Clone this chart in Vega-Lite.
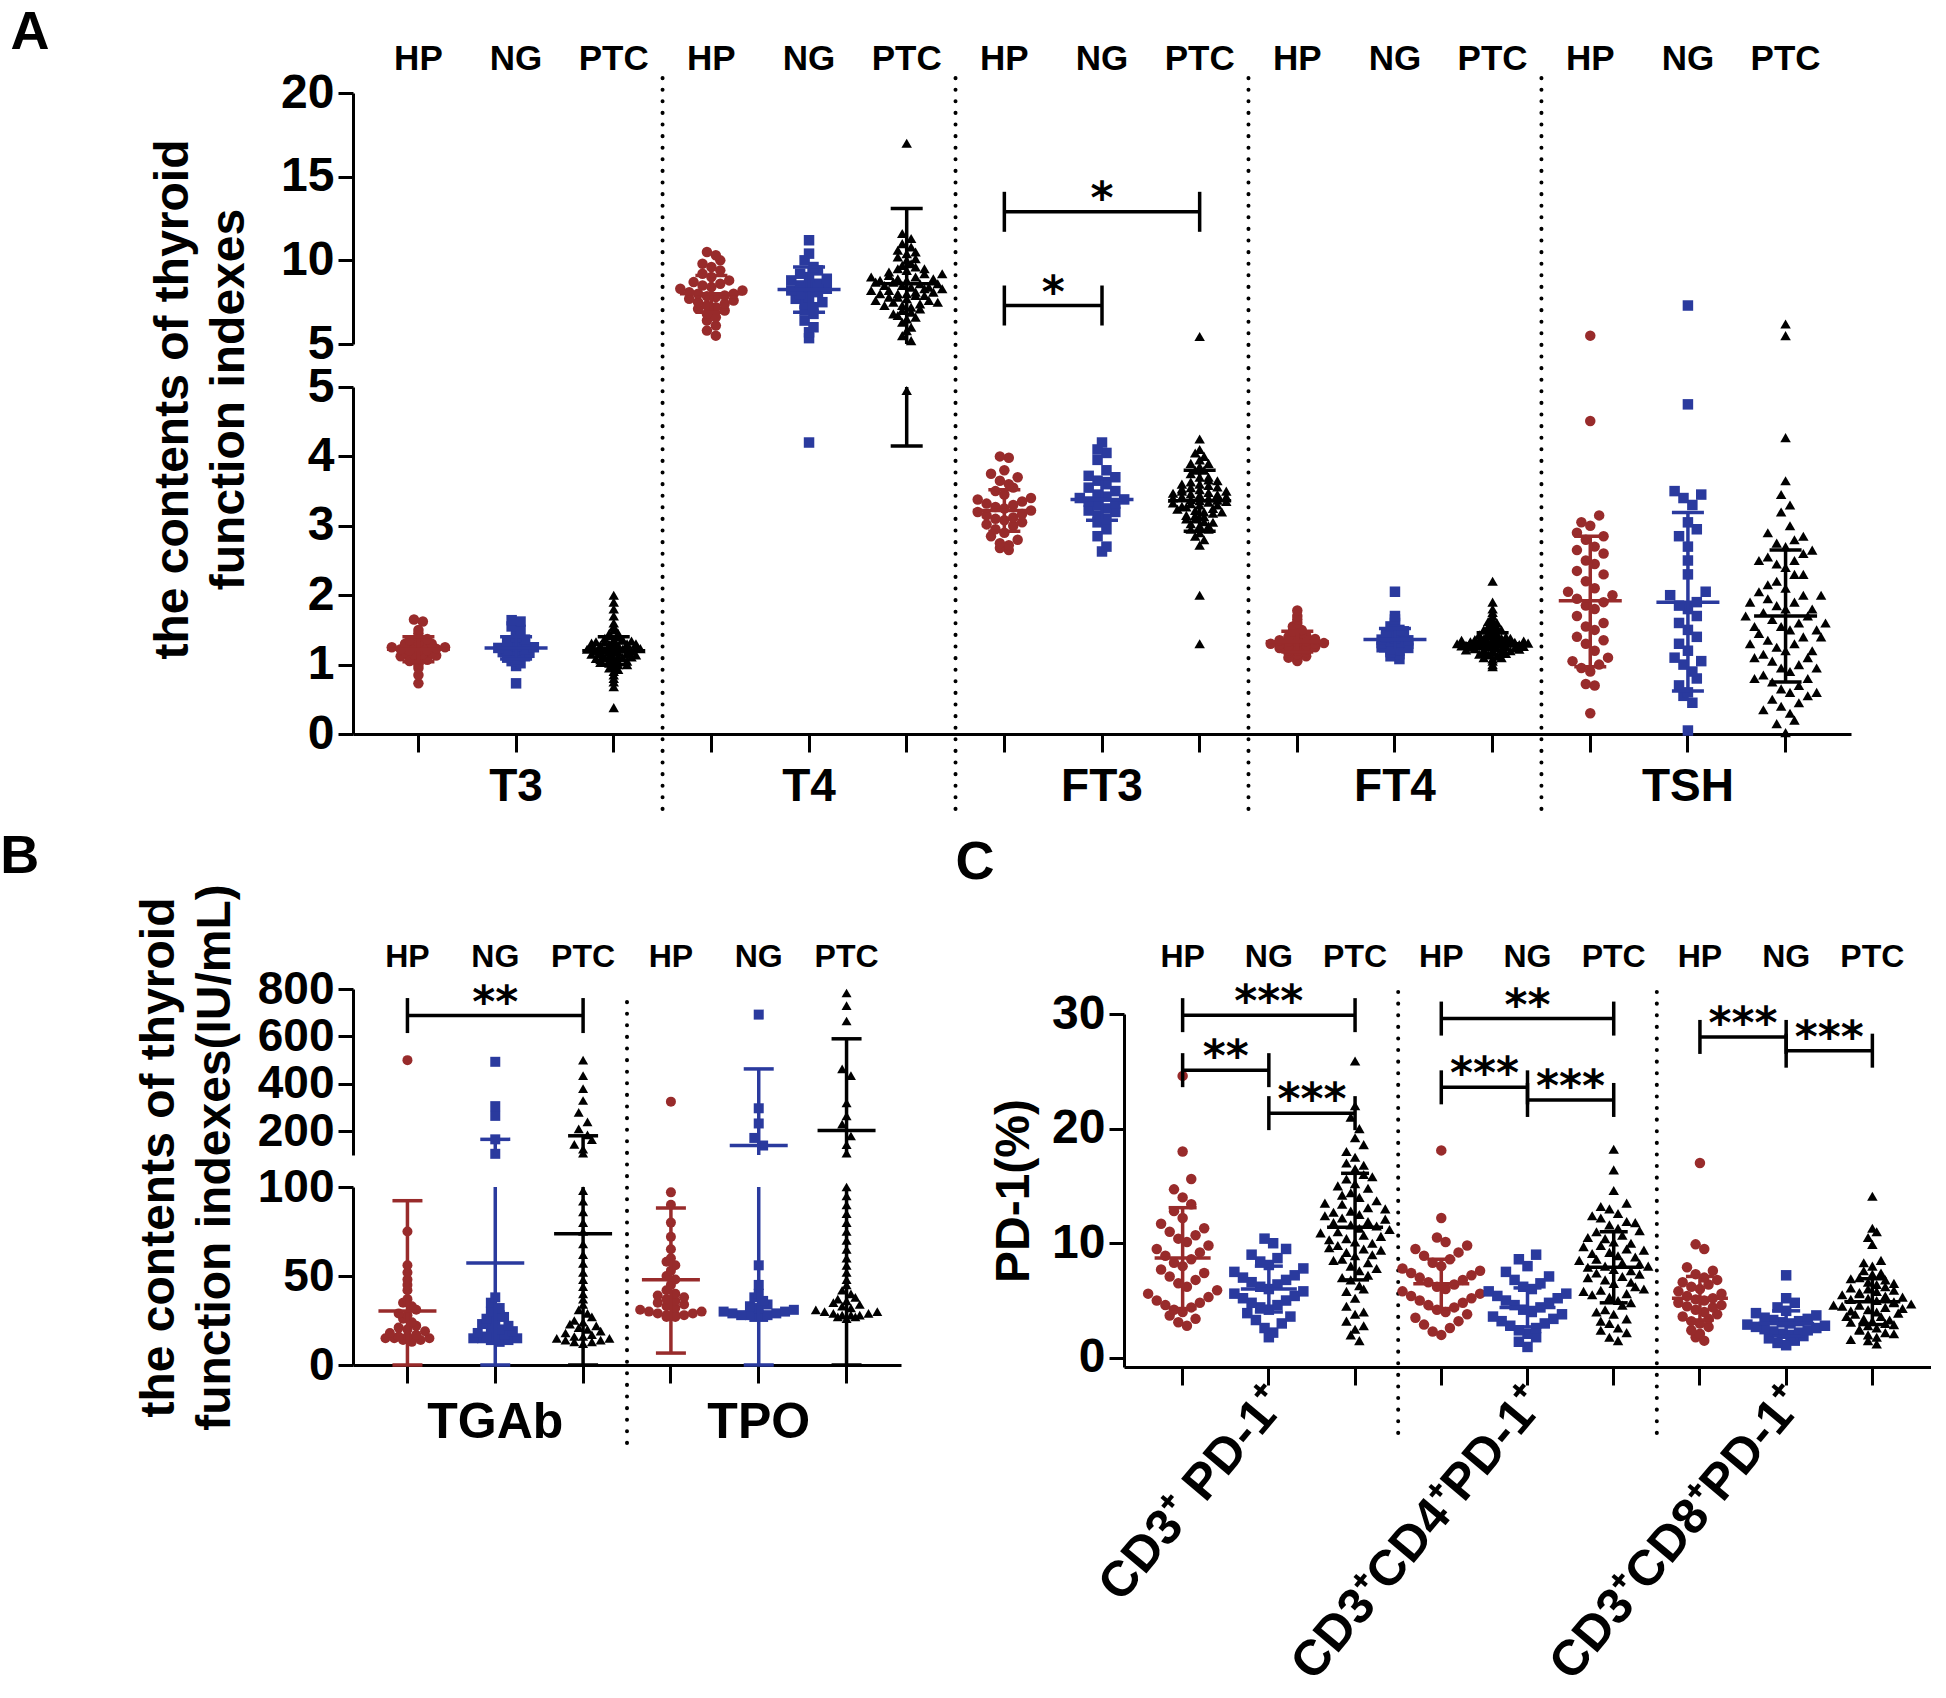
{
"$schema":"https://vega.github.io/schema/vega-lite/v6.json",
"padding":{"top":6,"left":0,"right":0,"bottom":0},
"background":"white",
"config":{
 "font":"Liberation Sans",
 "view":{"stroke":null},
 "axis":{"labelFont":"Liberation Sans","titleFont":"Liberation Sans","labelFontWeight":"bold","titleFontWeight":"bold","labelColor":"#000","titleColor":"#000","domainColor":"#000","tickColor":"#000","domainWidth":3,"tickWidth":3,"grid":false,"labelOverlap":false,"labelBound":false,"labelFlush":false,"labelLimit":0},
 "title":{"font":"Liberation Sans","fontWeight":"bold","color":"#000","anchor":"start","frame":"bounds","fontSize":54},
 "text":{"font":"DejaVu Sans","fontWeight":"bold","color":"#000"}
},
"resolve":{"scale":{"xOffset":"independent"}},
"spacing":18,
"datasets":{
"a":[
{"i":"T3","g":"HP","v":0.73},{"i":"T3","g":"HP","v":0.85},{"i":"T3","g":"HP","v":0.95},{"i":"T3","g":"HP","v":1.0},{"i":"T3","g":"HP","v":1.02},{"i":"T3","g":"HP","v":1.05},{"i":"T3","g":"HP","v":1.07},{"i":"T3","g":"HP","v":1.08},{"i":"T3","g":"HP","v":1.1},{"i":"T3","g":"HP","v":1.1},{"i":"T3","g":"HP","v":1.12},{"i":"T3","g":"HP","v":1.13},{"i":"T3","g":"HP","v":1.15},{"i":"T3","g":"HP","v":1.15},{"i":"T3","g":"HP","v":1.17},{"i":"T3","g":"HP","v":1.18},{"i":"T3","g":"HP","v":1.2},{"i":"T3","g":"HP","v":1.2},{"i":"T3","g":"HP","v":1.21},{"i":"T3","g":"HP","v":1.22},{"i":"T3","g":"HP","v":1.23},{"i":"T3","g":"HP","v":1.25},{"i":"T3","g":"HP","v":1.25},{"i":"T3","g":"HP","v":1.27},{"i":"T3","g":"HP","v":1.28},{"i":"T3","g":"HP","v":1.3},{"i":"T3","g":"HP","v":1.3},{"i":"T3","g":"HP","v":1.32},{"i":"T3","g":"HP","v":1.35},{"i":"T3","g":"HP","v":1.37},{"i":"T3","g":"HP","v":1.4},{"i":"T3","g":"HP","v":1.45},{"i":"T3","g":"HP","v":1.5},{"i":"T3","g":"HP","v":1.62},{"i":"T3","g":"HP","v":1.65},
{"i":"T3","g":"NG","v":0.73},{"i":"T3","g":"NG","v":0.98},{"i":"T3","g":"NG","v":1.02},{"i":"T3","g":"NG","v":1.05},{"i":"T3","g":"NG","v":1.08},{"i":"T3","g":"NG","v":1.1},{"i":"T3","g":"NG","v":1.12},{"i":"T3","g":"NG","v":1.14},{"i":"T3","g":"NG","v":1.15},{"i":"T3","g":"NG","v":1.17},{"i":"T3","g":"NG","v":1.18},{"i":"T3","g":"NG","v":1.2},{"i":"T3","g":"NG","v":1.21},{"i":"T3","g":"NG","v":1.22},{"i":"T3","g":"NG","v":1.24},{"i":"T3","g":"NG","v":1.25},{"i":"T3","g":"NG","v":1.27},{"i":"T3","g":"NG","v":1.28},{"i":"T3","g":"NG","v":1.3},{"i":"T3","g":"NG","v":1.32},{"i":"T3","g":"NG","v":1.34},{"i":"T3","g":"NG","v":1.36},{"i":"T3","g":"NG","v":1.4},{"i":"T3","g":"NG","v":1.45},{"i":"T3","g":"NG","v":1.5},{"i":"T3","g":"NG","v":1.55},{"i":"T3","g":"NG","v":1.62},{"i":"T3","g":"NG","v":1.64},
{"i":"T3","g":"PTC","v":0.38},{"i":"T3","g":"PTC","v":0.68},{"i":"T3","g":"PTC","v":0.75},{"i":"T3","g":"PTC","v":0.8},{"i":"T3","g":"PTC","v":0.85},{"i":"T3","g":"PTC","v":0.9},{"i":"T3","g":"PTC","v":0.93},{"i":"T3","g":"PTC","v":0.97},{"i":"T3","g":"PTC","v":1.0},{"i":"T3","g":"PTC","v":1.02},{"i":"T3","g":"PTC","v":1.04},{"i":"T3","g":"PTC","v":1.06},{"i":"T3","g":"PTC","v":1.08},{"i":"T3","g":"PTC","v":1.1},{"i":"T3","g":"PTC","v":1.1},{"i":"T3","g":"PTC","v":1.12},{"i":"T3","g":"PTC","v":1.13},{"i":"T3","g":"PTC","v":1.15},{"i":"T3","g":"PTC","v":1.16},{"i":"T3","g":"PTC","v":1.18},{"i":"T3","g":"PTC","v":1.19},{"i":"T3","g":"PTC","v":1.2},{"i":"T3","g":"PTC","v":1.21},{"i":"T3","g":"PTC","v":1.22},{"i":"T3","g":"PTC","v":1.24},{"i":"T3","g":"PTC","v":1.25},{"i":"T3","g":"PTC","v":1.26},{"i":"T3","g":"PTC","v":1.28},{"i":"T3","g":"PTC","v":1.29},{"i":"T3","g":"PTC","v":1.3},{"i":"T3","g":"PTC","v":1.32},{"i":"T3","g":"PTC","v":1.33},{"i":"T3","g":"PTC","v":1.35},{"i":"T3","g":"PTC","v":1.36},{"i":"T3","g":"PTC","v":1.38},{"i":"T3","g":"PTC","v":1.4},{"i":"T3","g":"PTC","v":1.42},{"i":"T3","g":"PTC","v":1.45},{"i":"T3","g":"PTC","v":1.5},{"i":"T3","g":"PTC","v":1.55},{"i":"T3","g":"PTC","v":1.6},{"i":"T3","g":"PTC","v":1.7},{"i":"T3","g":"PTC","v":1.8},{"i":"T3","g":"PTC","v":1.9},{"i":"T3","g":"PTC","v":2.0},
{"i":"T3","g":"PTC","v":1.05},{"i":"T3","g":"PTC","v":1.07},{"i":"T3","g":"PTC","v":1.09},{"i":"T3","g":"PTC","v":1.11},{"i":"T3","g":"PTC","v":1.14},{"i":"T3","g":"PTC","v":1.15},{"i":"T3","g":"PTC","v":1.17},{"i":"T3","g":"PTC","v":1.18},{"i":"T3","g":"PTC","v":1.2},{"i":"T3","g":"PTC","v":1.2},{"i":"T3","g":"PTC","v":1.22},{"i":"T3","g":"PTC","v":1.23},{"i":"T3","g":"PTC","v":1.24},{"i":"T3","g":"PTC","v":1.26},{"i":"T3","g":"PTC","v":1.27},{"i":"T3","g":"PTC","v":1.28},{"i":"T3","g":"PTC","v":1.3},{"i":"T3","g":"PTC","v":1.31},{"i":"T3","g":"PTC","v":1.33},{"i":"T3","g":"PTC","v":1.34},{"i":"T3","g":"PTC","v":1.36},{"i":"T3","g":"PTC","v":1.0},{"i":"T3","g":"PTC","v":1.03},{"i":"T3","g":"PTC","v":0.95},{"i":"T3","g":"PTC","v":1.45},
{"i":"T4","g":"HP","v":5.5},{"i":"T4","g":"HP","v":5.8},{"i":"T4","g":"HP","v":6.1},{"i":"T4","g":"HP","v":6.4},{"i":"T4","g":"HP","v":6.6},{"i":"T4","g":"HP","v":6.8},{"i":"T4","g":"HP","v":7.0},{"i":"T4","g":"HP","v":7.1},{"i":"T4","g":"HP","v":7.2},{"i":"T4","g":"HP","v":7.3},{"i":"T4","g":"HP","v":7.4},{"i":"T4","g":"HP","v":7.5},{"i":"T4","g":"HP","v":7.6},{"i":"T4","g":"HP","v":7.7},{"i":"T4","g":"HP","v":7.8},{"i":"T4","g":"HP","v":7.85},{"i":"T4","g":"HP","v":7.9},{"i":"T4","g":"HP","v":8.0},{"i":"T4","g":"HP","v":8.0},{"i":"T4","g":"HP","v":8.1},{"i":"T4","g":"HP","v":8.2},{"i":"T4","g":"HP","v":8.3},{"i":"T4","g":"HP","v":8.4},{"i":"T4","g":"HP","v":8.5},{"i":"T4","g":"HP","v":8.6},{"i":"T4","g":"HP","v":8.7},{"i":"T4","g":"HP","v":8.8},{"i":"T4","g":"HP","v":9.0},{"i":"T4","g":"HP","v":9.2},{"i":"T4","g":"HP","v":9.4},{"i":"T4","g":"HP","v":9.6},{"i":"T4","g":"HP","v":9.8},{"i":"T4","g":"HP","v":10.0},{"i":"T4","g":"HP","v":10.3},{"i":"T4","g":"HP","v":10.5},
{"i":"T4","g":"NG","v":4.2},{"i":"T4","g":"NG","v":5.35},{"i":"T4","g":"NG","v":5.7},{"i":"T4","g":"NG","v":6.0},{"i":"T4","g":"NG","v":6.4},{"i":"T4","g":"NG","v":6.8},{"i":"T4","g":"NG","v":7.0},{"i":"T4","g":"NG","v":7.2},{"i":"T4","g":"NG","v":7.4},{"i":"T4","g":"NG","v":7.5},{"i":"T4","g":"NG","v":7.7},{"i":"T4","g":"NG","v":7.8},{"i":"T4","g":"NG","v":8.0},{"i":"T4","g":"NG","v":8.1},{"i":"T4","g":"NG","v":8.2},{"i":"T4","g":"NG","v":8.3},{"i":"T4","g":"NG","v":8.4},{"i":"T4","g":"NG","v":8.5},{"i":"T4","g":"NG","v":8.6},{"i":"T4","g":"NG","v":8.8},{"i":"T4","g":"NG","v":8.9},{"i":"T4","g":"NG","v":9.0},{"i":"T4","g":"NG","v":9.2},{"i":"T4","g":"NG","v":9.4},{"i":"T4","g":"NG","v":9.6},{"i":"T4","g":"NG","v":10.0},{"i":"T4","g":"NG","v":10.4},{"i":"T4","g":"NG","v":11.2},
{"i":"T4","g":"PTC","v":4.95},{"i":"T4","g":"PTC","v":5.2},{"i":"T4","g":"PTC","v":5.5},{"i":"T4","g":"PTC","v":5.8},{"i":"T4","g":"PTC","v":6.0},{"i":"T4","g":"PTC","v":6.3},{"i":"T4","g":"PTC","v":6.5},{"i":"T4","g":"PTC","v":6.7},{"i":"T4","g":"PTC","v":6.9},{"i":"T4","g":"PTC","v":7.0},{"i":"T4","g":"PTC","v":7.2},{"i":"T4","g":"PTC","v":7.3},{"i":"T4","g":"PTC","v":7.4},{"i":"T4","g":"PTC","v":7.5},{"i":"T4","g":"PTC","v":7.6},{"i":"T4","g":"PTC","v":7.7},{"i":"T4","g":"PTC","v":7.8},{"i":"T4","g":"PTC","v":7.9},{"i":"T4","g":"PTC","v":8.0},{"i":"T4","g":"PTC","v":8.0},{"i":"T4","g":"PTC","v":8.1},{"i":"T4","g":"PTC","v":8.2},{"i":"T4","g":"PTC","v":8.3},{"i":"T4","g":"PTC","v":8.4},{"i":"T4","g":"PTC","v":8.5},{"i":"T4","g":"PTC","v":8.6},{"i":"T4","g":"PTC","v":8.7},{"i":"T4","g":"PTC","v":8.8},{"i":"T4","g":"PTC","v":8.9},{"i":"T4","g":"PTC","v":9.0},{"i":"T4","g":"PTC","v":9.1},{"i":"T4","g":"PTC","v":9.2},{"i":"T4","g":"PTC","v":9.4},{"i":"T4","g":"PTC","v":9.5},{"i":"T4","g":"PTC","v":9.6},{"i":"T4","g":"PTC","v":9.8},{"i":"T4","g":"PTC","v":10.0},{"i":"T4","g":"PTC","v":10.2},{"i":"T4","g":"PTC","v":10.4},{"i":"T4","g":"PTC","v":10.6},{"i":"T4","g":"PTC","v":10.8},{"i":"T4","g":"PTC","v":11.0},{"i":"T4","g":"PTC","v":11.3},{"i":"T4","g":"PTC","v":11.6},{"i":"T4","g":"PTC","v":17.0},
{"i":"T4","g":"PTC","v":7.1},{"i":"T4","g":"PTC","v":7.3},{"i":"T4","g":"PTC","v":7.5},{"i":"T4","g":"PTC","v":7.6},{"i":"T4","g":"PTC","v":7.8},{"i":"T4","g":"PTC","v":7.9},{"i":"T4","g":"PTC","v":8.0},{"i":"T4","g":"PTC","v":8.1},{"i":"T4","g":"PTC","v":8.2},{"i":"T4","g":"PTC","v":8.3},{"i":"T4","g":"PTC","v":8.4},{"i":"T4","g":"PTC","v":8.5},{"i":"T4","g":"PTC","v":8.6},{"i":"T4","g":"PTC","v":8.7},{"i":"T4","g":"PTC","v":8.8},{"i":"T4","g":"PTC","v":8.9},{"i":"T4","g":"PTC","v":9.0},{"i":"T4","g":"PTC","v":9.2},{"i":"T4","g":"PTC","v":9.3},{"i":"T4","g":"PTC","v":9.5},{"i":"T4","g":"PTC","v":9.7},{"i":"T4","g":"PTC","v":6.8},{"i":"T4","g":"PTC","v":6.6},{"i":"T4","g":"PTC","v":10.1},{"i":"T4","g":"PTC","v":10.5},
{"i":"FT3","g":"HP","v":2.65},{"i":"FT3","g":"HP","v":2.68},{"i":"FT3","g":"HP","v":2.72},{"i":"FT3","g":"HP","v":2.75},{"i":"FT3","g":"HP","v":2.8},{"i":"FT3","g":"HP","v":2.85},{"i":"FT3","g":"HP","v":2.9},{"i":"FT3","g":"HP","v":2.95},{"i":"FT3","g":"HP","v":3.0},{"i":"FT3","g":"HP","v":3.02},{"i":"FT3","g":"HP","v":3.05},{"i":"FT3","g":"HP","v":3.08},{"i":"FT3","g":"HP","v":3.1},{"i":"FT3","g":"HP","v":3.12},{"i":"FT3","g":"HP","v":3.15},{"i":"FT3","g":"HP","v":3.17},{"i":"FT3","g":"HP","v":3.2},{"i":"FT3","g":"HP","v":3.22},{"i":"FT3","g":"HP","v":3.25},{"i":"FT3","g":"HP","v":3.27},{"i":"FT3","g":"HP","v":3.3},{"i":"FT3","g":"HP","v":3.32},{"i":"FT3","g":"HP","v":3.35},{"i":"FT3","g":"HP","v":3.38},{"i":"FT3","g":"HP","v":3.4},{"i":"FT3","g":"HP","v":3.45},{"i":"FT3","g":"HP","v":3.5},{"i":"FT3","g":"HP","v":3.55},{"i":"FT3","g":"HP","v":3.6},{"i":"FT3","g":"HP","v":3.65},{"i":"FT3","g":"HP","v":3.7},{"i":"FT3","g":"HP","v":3.75},{"i":"FT3","g":"HP","v":3.8},{"i":"FT3","g":"HP","v":3.98},{"i":"FT3","g":"HP","v":4.0},
{"i":"FT3","g":"NG","v":2.63},{"i":"FT3","g":"NG","v":2.7},{"i":"FT3","g":"NG","v":2.85},{"i":"FT3","g":"NG","v":2.95},{"i":"FT3","g":"NG","v":3.05},{"i":"FT3","g":"NG","v":3.1},{"i":"FT3","g":"NG","v":3.15},{"i":"FT3","g":"NG","v":3.2},{"i":"FT3","g":"NG","v":3.22},{"i":"FT3","g":"NG","v":3.25},{"i":"FT3","g":"NG","v":3.3},{"i":"FT3","g":"NG","v":3.32},{"i":"FT3","g":"NG","v":3.35},{"i":"FT3","g":"NG","v":3.38},{"i":"FT3","g":"NG","v":3.4},{"i":"FT3","g":"NG","v":3.42},{"i":"FT3","g":"NG","v":3.45},{"i":"FT3","g":"NG","v":3.5},{"i":"FT3","g":"NG","v":3.55},{"i":"FT3","g":"NG","v":3.6},{"i":"FT3","g":"NG","v":3.65},{"i":"FT3","g":"NG","v":3.7},{"i":"FT3","g":"NG","v":3.72},{"i":"FT3","g":"NG","v":3.8},{"i":"FT3","g":"NG","v":3.95},{"i":"FT3","g":"NG","v":4.05},{"i":"FT3","g":"NG","v":4.1},{"i":"FT3","g":"NG","v":4.2},
{"i":"FT3","g":"PTC","v":1.3},{"i":"FT3","g":"PTC","v":2.0},{"i":"FT3","g":"PTC","v":2.72},{"i":"FT3","g":"PTC","v":2.8},{"i":"FT3","g":"PTC","v":2.85},{"i":"FT3","g":"PTC","v":2.9},{"i":"FT3","g":"PTC","v":2.95},{"i":"FT3","g":"PTC","v":3.0},{"i":"FT3","g":"PTC","v":3.03},{"i":"FT3","g":"PTC","v":3.06},{"i":"FT3","g":"PTC","v":3.1},{"i":"FT3","g":"PTC","v":3.13},{"i":"FT3","g":"PTC","v":3.15},{"i":"FT3","g":"PTC","v":3.18},{"i":"FT3","g":"PTC","v":3.2},{"i":"FT3","g":"PTC","v":3.22},{"i":"FT3","g":"PTC","v":3.25},{"i":"FT3","g":"PTC","v":3.27},{"i":"FT3","g":"PTC","v":3.3},{"i":"FT3","g":"PTC","v":3.32},{"i":"FT3","g":"PTC","v":3.34},{"i":"FT3","g":"PTC","v":3.36},{"i":"FT3","g":"PTC","v":3.38},{"i":"FT3","g":"PTC","v":3.4},{"i":"FT3","g":"PTC","v":3.42},{"i":"FT3","g":"PTC","v":3.44},{"i":"FT3","g":"PTC","v":3.46},{"i":"FT3","g":"PTC","v":3.48},{"i":"FT3","g":"PTC","v":3.5},{"i":"FT3","g":"PTC","v":3.52},{"i":"FT3","g":"PTC","v":3.55},{"i":"FT3","g":"PTC","v":3.58},{"i":"FT3","g":"PTC","v":3.6},{"i":"FT3","g":"PTC","v":3.63},{"i":"FT3","g":"PTC","v":3.66},{"i":"FT3","g":"PTC","v":3.7},{"i":"FT3","g":"PTC","v":3.75},{"i":"FT3","g":"PTC","v":3.8},{"i":"FT3","g":"PTC","v":3.85},{"i":"FT3","g":"PTC","v":3.9},{"i":"FT3","g":"PTC","v":3.95},{"i":"FT3","g":"PTC","v":4.0},{"i":"FT3","g":"PTC","v":4.1},{"i":"FT3","g":"PTC","v":4.25},{"i":"FT3","g":"PTC","v":5.45},
{"i":"FT3","g":"PTC","v":3.05},{"i":"FT3","g":"PTC","v":3.1},{"i":"FT3","g":"PTC","v":3.15},{"i":"FT3","g":"PTC","v":3.2},{"i":"FT3","g":"PTC","v":3.24},{"i":"FT3","g":"PTC","v":3.28},{"i":"FT3","g":"PTC","v":3.3},{"i":"FT3","g":"PTC","v":3.33},{"i":"FT3","g":"PTC","v":3.35},{"i":"FT3","g":"PTC","v":3.37},{"i":"FT3","g":"PTC","v":3.4},{"i":"FT3","g":"PTC","v":3.42},{"i":"FT3","g":"PTC","v":3.45},{"i":"FT3","g":"PTC","v":3.47},{"i":"FT3","g":"PTC","v":3.5},{"i":"FT3","g":"PTC","v":3.53},{"i":"FT3","g":"PTC","v":3.56},{"i":"FT3","g":"PTC","v":3.6},{"i":"FT3","g":"PTC","v":3.65},{"i":"FT3","g":"PTC","v":3.7},{"i":"FT3","g":"PTC","v":3.0},{"i":"FT3","g":"PTC","v":2.95},{"i":"FT3","g":"PTC","v":3.8},{"i":"FT3","g":"PTC","v":3.9},{"i":"FT3","g":"PTC","v":4.05},
{"i":"FT4","g":"HP","v":1.05},{"i":"FT4","g":"HP","v":1.08},{"i":"FT4","g":"HP","v":1.1},{"i":"FT4","g":"HP","v":1.12},{"i":"FT4","g":"HP","v":1.15},{"i":"FT4","g":"HP","v":1.17},{"i":"FT4","g":"HP","v":1.18},{"i":"FT4","g":"HP","v":1.2},{"i":"FT4","g":"HP","v":1.21},{"i":"FT4","g":"HP","v":1.22},{"i":"FT4","g":"HP","v":1.24},{"i":"FT4","g":"HP","v":1.25},{"i":"FT4","g":"HP","v":1.26},{"i":"FT4","g":"HP","v":1.27},{"i":"FT4","g":"HP","v":1.28},{"i":"FT4","g":"HP","v":1.29},{"i":"FT4","g":"HP","v":1.3},{"i":"FT4","g":"HP","v":1.3},{"i":"FT4","g":"HP","v":1.31},{"i":"FT4","g":"HP","v":1.32},{"i":"FT4","g":"HP","v":1.33},{"i":"FT4","g":"HP","v":1.34},{"i":"FT4","g":"HP","v":1.35},{"i":"FT4","g":"HP","v":1.37},{"i":"FT4","g":"HP","v":1.38},{"i":"FT4","g":"HP","v":1.4},{"i":"FT4","g":"HP","v":1.42},{"i":"FT4","g":"HP","v":1.45},{"i":"FT4","g":"HP","v":1.48},{"i":"FT4","g":"HP","v":1.5},{"i":"FT4","g":"HP","v":1.55},{"i":"FT4","g":"HP","v":1.6},{"i":"FT4","g":"HP","v":1.65},{"i":"FT4","g":"HP","v":1.7},{"i":"FT4","g":"HP","v":1.78},
{"i":"FT4","g":"NG","v":1.08},{"i":"FT4","g":"NG","v":1.12},{"i":"FT4","g":"NG","v":1.15},{"i":"FT4","g":"NG","v":1.18},{"i":"FT4","g":"NG","v":1.2},{"i":"FT4","g":"NG","v":1.22},{"i":"FT4","g":"NG","v":1.24},{"i":"FT4","g":"NG","v":1.25},{"i":"FT4","g":"NG","v":1.27},{"i":"FT4","g":"NG","v":1.28},{"i":"FT4","g":"NG","v":1.3},{"i":"FT4","g":"NG","v":1.31},{"i":"FT4","g":"NG","v":1.32},{"i":"FT4","g":"NG","v":1.34},{"i":"FT4","g":"NG","v":1.35},{"i":"FT4","g":"NG","v":1.36},{"i":"FT4","g":"NG","v":1.38},{"i":"FT4","g":"NG","v":1.4},{"i":"FT4","g":"NG","v":1.42},{"i":"FT4","g":"NG","v":1.44},{"i":"FT4","g":"NG","v":1.46},{"i":"FT4","g":"NG","v":1.48},{"i":"FT4","g":"NG","v":1.5},{"i":"FT4","g":"NG","v":1.55},{"i":"FT4","g":"NG","v":1.6},{"i":"FT4","g":"NG","v":1.65},{"i":"FT4","g":"NG","v":1.7},{"i":"FT4","g":"NG","v":2.05},
{"i":"FT4","g":"PTC","v":0.97},{"i":"FT4","g":"PTC","v":1.0},{"i":"FT4","g":"PTC","v":1.05},{"i":"FT4","g":"PTC","v":1.08},{"i":"FT4","g":"PTC","v":1.1},{"i":"FT4","g":"PTC","v":1.12},{"i":"FT4","g":"PTC","v":1.14},{"i":"FT4","g":"PTC","v":1.16},{"i":"FT4","g":"PTC","v":1.18},{"i":"FT4","g":"PTC","v":1.19},{"i":"FT4","g":"PTC","v":1.2},{"i":"FT4","g":"PTC","v":1.21},{"i":"FT4","g":"PTC","v":1.22},{"i":"FT4","g":"PTC","v":1.23},{"i":"FT4","g":"PTC","v":1.24},{"i":"FT4","g":"PTC","v":1.25},{"i":"FT4","g":"PTC","v":1.26},{"i":"FT4","g":"PTC","v":1.27},{"i":"FT4","g":"PTC","v":1.28},{"i":"FT4","g":"PTC","v":1.29},{"i":"FT4","g":"PTC","v":1.3},{"i":"FT4","g":"PTC","v":1.3},{"i":"FT4","g":"PTC","v":1.31},{"i":"FT4","g":"PTC","v":1.32},{"i":"FT4","g":"PTC","v":1.33},{"i":"FT4","g":"PTC","v":1.34},{"i":"FT4","g":"PTC","v":1.35},{"i":"FT4","g":"PTC","v":1.36},{"i":"FT4","g":"PTC","v":1.37},{"i":"FT4","g":"PTC","v":1.38},{"i":"FT4","g":"PTC","v":1.4},{"i":"FT4","g":"PTC","v":1.42},{"i":"FT4","g":"PTC","v":1.44},{"i":"FT4","g":"PTC","v":1.46},{"i":"FT4","g":"PTC","v":1.48},{"i":"FT4","g":"PTC","v":1.5},{"i":"FT4","g":"PTC","v":1.53},{"i":"FT4","g":"PTC","v":1.56},{"i":"FT4","g":"PTC","v":1.6},{"i":"FT4","g":"PTC","v":1.65},{"i":"FT4","g":"PTC","v":1.7},{"i":"FT4","g":"PTC","v":1.75},{"i":"FT4","g":"PTC","v":1.8},{"i":"FT4","g":"PTC","v":1.9},{"i":"FT4","g":"PTC","v":2.2},
{"i":"FT4","g":"PTC","v":1.15},{"i":"FT4","g":"PTC","v":1.17},{"i":"FT4","g":"PTC","v":1.2},{"i":"FT4","g":"PTC","v":1.21},{"i":"FT4","g":"PTC","v":1.22},{"i":"FT4","g":"PTC","v":1.24},{"i":"FT4","g":"PTC","v":1.25},{"i":"FT4","g":"PTC","v":1.26},{"i":"FT4","g":"PTC","v":1.27},{"i":"FT4","g":"PTC","v":1.28},{"i":"FT4","g":"PTC","v":1.29},{"i":"FT4","g":"PTC","v":1.3},{"i":"FT4","g":"PTC","v":1.31},{"i":"FT4","g":"PTC","v":1.32},{"i":"FT4","g":"PTC","v":1.33},{"i":"FT4","g":"PTC","v":1.34},{"i":"FT4","g":"PTC","v":1.35},{"i":"FT4","g":"PTC","v":1.36},{"i":"FT4","g":"PTC","v":1.38},{"i":"FT4","g":"PTC","v":1.4},{"i":"FT4","g":"PTC","v":1.43},{"i":"FT4","g":"PTC","v":1.1},{"i":"FT4","g":"PTC","v":1.5},{"i":"FT4","g":"PTC","v":1.55},{"i":"FT4","g":"PTC","v":1.62},
{"i":"TSH","g":"HP","v":0.3},{"i":"TSH","g":"HP","v":0.7},{"i":"TSH","g":"HP","v":0.72},{"i":"TSH","g":"HP","v":0.9},{"i":"TSH","g":"HP","v":0.95},{"i":"TSH","g":"HP","v":1.0},{"i":"TSH","g":"HP","v":1.05},{"i":"TSH","g":"HP","v":1.1},{"i":"TSH","g":"HP","v":1.2},{"i":"TSH","g":"HP","v":1.3},{"i":"TSH","g":"HP","v":1.35},{"i":"TSH","g":"HP","v":1.4},{"i":"TSH","g":"HP","v":1.5},{"i":"TSH","g":"HP","v":1.55},{"i":"TSH","g":"HP","v":1.6},{"i":"TSH","g":"HP","v":1.7},{"i":"TSH","g":"HP","v":1.8},{"i":"TSH","g":"HP","v":1.85},{"i":"TSH","g":"HP","v":1.9},{"i":"TSH","g":"HP","v":1.95},{"i":"TSH","g":"HP","v":2.0},{"i":"TSH","g":"HP","v":2.05},{"i":"TSH","g":"HP","v":2.1},{"i":"TSH","g":"HP","v":2.2},{"i":"TSH","g":"HP","v":2.3},{"i":"TSH","g":"HP","v":2.35},{"i":"TSH","g":"HP","v":2.45},{"i":"TSH","g":"HP","v":2.5},{"i":"TSH","g":"HP","v":2.6},{"i":"TSH","g":"HP","v":2.65},{"i":"TSH","g":"HP","v":2.7},{"i":"TSH","g":"HP","v":2.8},{"i":"TSH","g":"HP","v":2.85},{"i":"TSH","g":"HP","v":2.9},{"i":"TSH","g":"HP","v":3.0},{"i":"TSH","g":"HP","v":3.05},{"i":"TSH","g":"HP","v":3.15},{"i":"TSH","g":"HP","v":4.51},{"i":"TSH","g":"HP","v":5.5},
{"i":"TSH","g":"NG","v":0.05},{"i":"TSH","g":"NG","v":0.45},{"i":"TSH","g":"NG","v":0.55},{"i":"TSH","g":"NG","v":0.6},{"i":"TSH","g":"NG","v":0.7},{"i":"TSH","g":"NG","v":0.8},{"i":"TSH","g":"NG","v":0.9},{"i":"TSH","g":"NG","v":1.0},{"i":"TSH","g":"NG","v":1.05},{"i":"TSH","g":"NG","v":1.1},{"i":"TSH","g":"NG","v":1.2},{"i":"TSH","g":"NG","v":1.3},{"i":"TSH","g":"NG","v":1.4},{"i":"TSH","g":"NG","v":1.5},{"i":"TSH","g":"NG","v":1.6},{"i":"TSH","g":"NG","v":1.7},{"i":"TSH","g":"NG","v":1.8},{"i":"TSH","g":"NG","v":1.85},{"i":"TSH","g":"NG","v":1.9},{"i":"TSH","g":"NG","v":2.0},{"i":"TSH","g":"NG","v":2.05},{"i":"TSH","g":"NG","v":2.3},{"i":"TSH","g":"NG","v":2.5},{"i":"TSH","g":"NG","v":2.7},{"i":"TSH","g":"NG","v":2.85},{"i":"TSH","g":"NG","v":2.95},{"i":"TSH","g":"NG","v":3.05},{"i":"TSH","g":"NG","v":3.3},{"i":"TSH","g":"NG","v":3.4},{"i":"TSH","g":"NG","v":3.45},{"i":"TSH","g":"NG","v":3.5},{"i":"TSH","g":"NG","v":4.75},{"i":"TSH","g":"NG","v":7.3},
{"i":"TSH","g":"PTC","v":0.02},{"i":"TSH","g":"PTC","v":0.15},{"i":"TSH","g":"PTC","v":0.2},{"i":"TSH","g":"PTC","v":0.3},{"i":"TSH","g":"PTC","v":0.4},{"i":"TSH","g":"PTC","v":0.45},{"i":"TSH","g":"PTC","v":0.5},{"i":"TSH","g":"PTC","v":0.55},{"i":"TSH","g":"PTC","v":0.6},{"i":"TSH","g":"PTC","v":0.65},{"i":"TSH","g":"PTC","v":0.7},{"i":"TSH","g":"PTC","v":0.75},{"i":"TSH","g":"PTC","v":0.8},{"i":"TSH","g":"PTC","v":0.85},{"i":"TSH","g":"PTC","v":0.9},{"i":"TSH","g":"PTC","v":0.95},{"i":"TSH","g":"PTC","v":1.0},{"i":"TSH","g":"PTC","v":1.05},{"i":"TSH","g":"PTC","v":1.1},{"i":"TSH","g":"PTC","v":1.15},{"i":"TSH","g":"PTC","v":1.2},{"i":"TSH","g":"PTC","v":1.25},{"i":"TSH","g":"PTC","v":1.3},{"i":"TSH","g":"PTC","v":1.35},{"i":"TSH","g":"PTC","v":1.4},{"i":"TSH","g":"PTC","v":1.45},{"i":"TSH","g":"PTC","v":1.5},{"i":"TSH","g":"PTC","v":1.55},{"i":"TSH","g":"PTC","v":1.6},{"i":"TSH","g":"PTC","v":1.65},{"i":"TSH","g":"PTC","v":1.7},{"i":"TSH","g":"PTC","v":1.75},{"i":"TSH","g":"PTC","v":1.8},{"i":"TSH","g":"PTC","v":1.85},{"i":"TSH","g":"PTC","v":1.9},{"i":"TSH","g":"PTC","v":1.95},{"i":"TSH","g":"PTC","v":2.0},{"i":"TSH","g":"PTC","v":2.05},{"i":"TSH","g":"PTC","v":2.1},{"i":"TSH","g":"PTC","v":2.2},{"i":"TSH","g":"PTC","v":2.3},{"i":"TSH","g":"PTC","v":2.4},{"i":"TSH","g":"PTC","v":2.45},{"i":"TSH","g":"PTC","v":2.5},{"i":"TSH","g":"PTC","v":2.55},{"i":"TSH","g":"PTC","v":2.6},{"i":"TSH","g":"PTC","v":2.7},{"i":"TSH","g":"PTC","v":2.75},{"i":"TSH","g":"PTC","v":2.8},{"i":"TSH","g":"PTC","v":2.9},{"i":"TSH","g":"PTC","v":3.0},{"i":"TSH","g":"PTC","v":3.2},{"i":"TSH","g":"PTC","v":3.3},{"i":"TSH","g":"PTC","v":3.45},{"i":"TSH","g":"PTC","v":3.65},{"i":"TSH","g":"PTC","v":4.27},{"i":"TSH","g":"PTC","v":5.5},{"i":"TSH","g":"PTC","v":6.2},
{"i":"TSH","g":"PTC","v":0.35},{"i":"TSH","g":"PTC","v":0.6},{"i":"TSH","g":"PTC","v":0.8},{"i":"TSH","g":"PTC","v":0.95},{"i":"TSH","g":"PTC","v":1.1},{"i":"TSH","g":"PTC","v":1.2},{"i":"TSH","g":"PTC","v":1.3},{"i":"TSH","g":"PTC","v":1.4},{"i":"TSH","g":"PTC","v":1.5},{"i":"TSH","g":"PTC","v":1.55},{"i":"TSH","g":"PTC","v":1.6},{"i":"TSH","g":"PTC","v":1.7},{"i":"TSH","g":"PTC","v":1.8},{"i":"TSH","g":"PTC","v":1.9},{"i":"TSH","g":"PTC","v":2.0},{"i":"TSH","g":"PTC","v":2.15},{"i":"TSH","g":"PTC","v":2.3},{"i":"TSH","g":"PTC","v":2.5},{"i":"TSH","g":"PTC","v":2.65},{"i":"TSH","g":"PTC","v":2.85}
],
"as":[
{"i":"T3","g":"HP","m":1.22,"lo":1.04,"hi":1.4},{"i":"T3","g":"NG","m":1.24,"lo":1.08,"hi":1.4},{"i":"T3","g":"PTC","m":1.2,"lo":1.0,"hi":1.4},
{"i":"T4","g":"HP","m":8.0,"lo":6.9,"hi":9.1},{"i":"T4","g":"NG","m":8.25,"lo":6.9,"hi":9.6},{"i":"T4","g":"PTC","m":8.6,"lo":4.15,"hi":13.1},
{"i":"FT3","g":"HP","m":3.22,"lo":2.92,"hi":3.52},{"i":"FT3","g":"NG","m":3.38,"lo":3.08,"hi":3.68},{"i":"FT3","g":"PTC","m":3.36,"lo":2.92,"hi":3.8},
{"i":"FT4","g":"HP","m":1.33,"lo":1.18,"hi":1.48},{"i":"FT4","g":"NG","m":1.36,"lo":1.2,"hi":1.52},{"i":"FT4","g":"PTC","m":1.3,"lo":1.14,"hi":1.46},
{"i":"TSH","g":"HP","m":1.92,"lo":0.97,"hi":2.85},{"i":"TSH","g":"NG","m":1.9,"lo":0.62,"hi":3.19},{"i":"TSH","g":"PTC","m":1.7,"lo":0.75,"hi":2.65}
],
"ab":[
{"i":"FT3","g1":"HP","g2":"PTC","y":12.9,"t":"*"},{"i":"FT3","g1":"HP","g2":"NG","y":7.3,"t":"*"}
],
"b":[
{"i":"TGAb","g":"HP","v":13},{"i":"TGAb","g":"HP","v":14},{"i":"TGAb","g":"HP","v":14},{"i":"TGAb","g":"HP","v":15},{"i":"TGAb","g":"HP","v":15},{"i":"TGAb","g":"HP","v":15},{"i":"TGAb","g":"HP","v":16},{"i":"TGAb","g":"HP","v":16},{"i":"TGAb","g":"HP","v":17},{"i":"TGAb","g":"HP","v":18},{"i":"TGAb","g":"HP","v":19},{"i":"TGAb","g":"HP","v":20},{"i":"TGAb","g":"HP","v":21},{"i":"TGAb","g":"HP","v":22},{"i":"TGAb","g":"HP","v":24},{"i":"TGAb","g":"HP","v":26},{"i":"TGAb","g":"HP","v":28},{"i":"TGAb","g":"HP","v":29},{"i":"TGAb","g":"HP","v":31},{"i":"TGAb","g":"HP","v":33},{"i":"TGAb","g":"HP","v":35},{"i":"TGAb","g":"HP","v":37},{"i":"TGAb","g":"HP","v":42},{"i":"TGAb","g":"HP","v":45},{"i":"TGAb","g":"HP","v":48},{"i":"TGAb","g":"HP","v":52},{"i":"TGAb","g":"HP","v":56},{"i":"TGAb","g":"HP","v":75},{"i":"TGAb","g":"HP","v":500},
{"i":"TGAb","g":"NG","v":13},{"i":"TGAb","g":"NG","v":14},{"i":"TGAb","g":"NG","v":14},{"i":"TGAb","g":"NG","v":15},{"i":"TGAb","g":"NG","v":15},{"i":"TGAb","g":"NG","v":15},{"i":"TGAb","g":"NG","v":16},{"i":"TGAb","g":"NG","v":16},{"i":"TGAb","g":"NG","v":17},{"i":"TGAb","g":"NG","v":18},{"i":"TGAb","g":"NG","v":19},{"i":"TGAb","g":"NG","v":20},{"i":"TGAb","g":"NG","v":21},{"i":"TGAb","g":"NG","v":22},{"i":"TGAb","g":"NG","v":23},{"i":"TGAb","g":"NG","v":25},{"i":"TGAb","g":"NG","v":26},{"i":"TGAb","g":"NG","v":27},{"i":"TGAb","g":"NG","v":28},{"i":"TGAb","g":"NG","v":30},{"i":"TGAb","g":"NG","v":32},{"i":"TGAb","g":"NG","v":35},{"i":"TGAb","g":"NG","v":38},{"i":"TGAb","g":"NG","v":105},{"i":"TGAb","g":"NG","v":166},{"i":"TGAb","g":"NG","v":265},{"i":"TGAb","g":"NG","v":306},{"i":"TGAb","g":"NG","v":493},
{"i":"TGAb","g":"PTC","v":12},{"i":"TGAb","g":"PTC","v":13},{"i":"TGAb","g":"PTC","v":13},{"i":"TGAb","g":"PTC","v":14},{"i":"TGAb","g":"PTC","v":14},{"i":"TGAb","g":"PTC","v":15},{"i":"TGAb","g":"PTC","v":15},{"i":"TGAb","g":"PTC","v":16},{"i":"TGAb","g":"PTC","v":16},{"i":"TGAb","g":"PTC","v":17},{"i":"TGAb","g":"PTC","v":18},{"i":"TGAb","g":"PTC","v":19},{"i":"TGAb","g":"PTC","v":20},{"i":"TGAb","g":"PTC","v":21},{"i":"TGAb","g":"PTC","v":22},{"i":"TGAb","g":"PTC","v":23},{"i":"TGAb","g":"PTC","v":24},{"i":"TGAb","g":"PTC","v":25},{"i":"TGAb","g":"PTC","v":27},{"i":"TGAb","g":"PTC","v":29},{"i":"TGAb","g":"PTC","v":31},{"i":"TGAb","g":"PTC","v":34},{"i":"TGAb","g":"PTC","v":37},{"i":"TGAb","g":"PTC","v":40},{"i":"TGAb","g":"PTC","v":44},{"i":"TGAb","g":"PTC","v":48},{"i":"TGAb","g":"PTC","v":52},{"i":"TGAb","g":"PTC","v":57},{"i":"TGAb","g":"PTC","v":62},{"i":"TGAb","g":"PTC","v":68},{"i":"TGAb","g":"PTC","v":75},{"i":"TGAb","g":"PTC","v":80},{"i":"TGAb","g":"PTC","v":86},{"i":"TGAb","g":"PTC","v":92},{"i":"TGAb","g":"PTC","v":98},{"i":"TGAb","g":"PTC","v":108},{"i":"TGAb","g":"PTC","v":125},{"i":"TGAb","g":"PTC","v":145},{"i":"TGAb","g":"PTC","v":165},{"i":"TGAb","g":"PTC","v":185},{"i":"TGAb","g":"PTC","v":210},{"i":"TGAb","g":"PTC","v":240},{"i":"TGAb","g":"PTC","v":280},{"i":"TGAb","g":"PTC","v":330},{"i":"TGAb","g":"PTC","v":380},{"i":"TGAb","g":"PTC","v":435},{"i":"TGAb","g":"PTC","v":500},
{"i":"TPO","g":"HP","v":27},{"i":"TPO","g":"HP","v":27},{"i":"TPO","g":"HP","v":28},{"i":"TPO","g":"HP","v":28},{"i":"TPO","g":"HP","v":28},{"i":"TPO","g":"HP","v":29},{"i":"TPO","g":"HP","v":29},{"i":"TPO","g":"HP","v":30},{"i":"TPO","g":"HP","v":30},{"i":"TPO","g":"HP","v":31},{"i":"TPO","g":"HP","v":32},{"i":"TPO","g":"HP","v":33},{"i":"TPO","g":"HP","v":34},{"i":"TPO","g":"HP","v":35},{"i":"TPO","g":"HP","v":36},{"i":"TPO","g":"HP","v":37},{"i":"TPO","g":"HP","v":38},{"i":"TPO","g":"HP","v":39},{"i":"TPO","g":"HP","v":40},{"i":"TPO","g":"HP","v":42},{"i":"TPO","g":"HP","v":45},{"i":"TPO","g":"HP","v":48},{"i":"TPO","g":"HP","v":50},{"i":"TPO","g":"HP","v":53},{"i":"TPO","g":"HP","v":56},{"i":"TPO","g":"HP","v":58},{"i":"TPO","g":"HP","v":60},{"i":"TPO","g":"HP","v":65},{"i":"TPO","g":"HP","v":72},{"i":"TPO","g":"HP","v":80},{"i":"TPO","g":"HP","v":90},{"i":"TPO","g":"HP","v":97},{"i":"TPO","g":"HP","v":325},
{"i":"TPO","g":"NG","v":27},{"i":"TPO","g":"NG","v":27},{"i":"TPO","g":"NG","v":28},{"i":"TPO","g":"NG","v":28},{"i":"TPO","g":"NG","v":28},{"i":"TPO","g":"NG","v":28},{"i":"TPO","g":"NG","v":29},{"i":"TPO","g":"NG","v":29},{"i":"TPO","g":"NG","v":30},{"i":"TPO","g":"NG","v":30},{"i":"TPO","g":"NG","v":31},{"i":"TPO","g":"NG","v":32},{"i":"TPO","g":"NG","v":33},{"i":"TPO","g":"NG","v":34},{"i":"TPO","g":"NG","v":36},{"i":"TPO","g":"NG","v":38},{"i":"TPO","g":"NG","v":40},{"i":"TPO","g":"NG","v":45},{"i":"TPO","g":"NG","v":56},{"i":"TPO","g":"NG","v":140},{"i":"TPO","g":"NG","v":172},{"i":"TPO","g":"NG","v":233},{"i":"TPO","g":"NG","v":297},{"i":"TPO","g":"NG","v":692},
{"i":"TPO","g":"PTC","v":26},{"i":"TPO","g":"PTC","v":27},{"i":"TPO","g":"PTC","v":27},{"i":"TPO","g":"PTC","v":28},{"i":"TPO","g":"PTC","v":28},{"i":"TPO","g":"PTC","v":28},{"i":"TPO","g":"PTC","v":29},{"i":"TPO","g":"PTC","v":29},{"i":"TPO","g":"PTC","v":30},{"i":"TPO","g":"PTC","v":30},{"i":"TPO","g":"PTC","v":31},{"i":"TPO","g":"PTC","v":32},{"i":"TPO","g":"PTC","v":33},{"i":"TPO","g":"PTC","v":34},{"i":"TPO","g":"PTC","v":35},{"i":"TPO","g":"PTC","v":36},{"i":"TPO","g":"PTC","v":37},{"i":"TPO","g":"PTC","v":38},{"i":"TPO","g":"PTC","v":40},{"i":"TPO","g":"PTC","v":42},{"i":"TPO","g":"PTC","v":45},{"i":"TPO","g":"PTC","v":48},{"i":"TPO","g":"PTC","v":52},{"i":"TPO","g":"PTC","v":56},{"i":"TPO","g":"PTC","v":60},{"i":"TPO","g":"PTC","v":65},{"i":"TPO","g":"PTC","v":70},{"i":"TPO","g":"PTC","v":75},{"i":"TPO","g":"PTC","v":80},{"i":"TPO","g":"PTC","v":85},{"i":"TPO","g":"PTC","v":90},{"i":"TPO","g":"PTC","v":95},{"i":"TPO","g":"PTC","v":100},{"i":"TPO","g":"PTC","v":108},{"i":"TPO","g":"PTC","v":144},{"i":"TPO","g":"PTC","v":180},{"i":"TPO","g":"PTC","v":230},{"i":"TPO","g":"PTC","v":265},{"i":"TPO","g":"PTC","v":320},{"i":"TPO","g":"PTC","v":435},{"i":"TPO","g":"PTC","v":463},{"i":"TPO","g":"PTC","v":665},{"i":"TPO","g":"PTC","v":730},{"i":"TPO","g":"PTC","v":783}
],
"bs":[
{"i":"TGAb","g":"HP","m":30.3,"lo":0,"hi":92.3},{"i":"TGAb","g":"NG","m":57.3,"lo":0,"hi":166},{"i":"TGAb","g":"PTC","m":73.8,"lo":0,"hi":181},
{"i":"TPO","g":"HP","m":47.9,"lo":6.7,"hi":88.2},{"i":"TPO","g":"NG","m":140,"lo":0,"hi":463},{"i":"TPO","g":"PTC","m":203,"lo":0,"hi":590}
],
"bb":[
{"i":"TGAb","g1":"HP","g2":"PTC","y":688,"t":"**"}
],
"c":[
{"i":"PD1","g":"HP","v":2.8},{"i":"PD1","g":"HP","v":3.1},{"i":"PD1","g":"HP","v":3.4},{"i":"PD1","g":"HP","v":3.7},{"i":"PD1","g":"HP","v":4.0},{"i":"PD1","g":"HP","v":4.2},{"i":"PD1","g":"HP","v":4.4},{"i":"PD1","g":"HP","v":4.6},{"i":"PD1","g":"HP","v":4.8},{"i":"PD1","g":"HP","v":5.0},{"i":"PD1","g":"HP","v":5.3},{"i":"PD1","g":"HP","v":5.6},{"i":"PD1","g":"HP","v":5.9},{"i":"PD1","g":"HP","v":6.2},{"i":"PD1","g":"HP","v":6.5},{"i":"PD1","g":"HP","v":6.8},{"i":"PD1","g":"HP","v":7.1},{"i":"PD1","g":"HP","v":7.4},{"i":"PD1","g":"HP","v":7.7},{"i":"PD1","g":"HP","v":8.0},{"i":"PD1","g":"HP","v":8.3},{"i":"PD1","g":"HP","v":8.6},{"i":"PD1","g":"HP","v":8.9},{"i":"PD1","g":"HP","v":9.2},{"i":"PD1","g":"HP","v":9.5},{"i":"PD1","g":"HP","v":9.8},{"i":"PD1","g":"HP","v":10.1},{"i":"PD1","g":"HP","v":10.4},{"i":"PD1","g":"HP","v":10.7},{"i":"PD1","g":"HP","v":11.0},{"i":"PD1","g":"HP","v":11.3},{"i":"PD1","g":"HP","v":11.7},{"i":"PD1","g":"HP","v":12.2},{"i":"PD1","g":"HP","v":12.8},{"i":"PD1","g":"HP","v":13.4},{"i":"PD1","g":"HP","v":14.0},{"i":"PD1","g":"HP","v":14.7},{"i":"PD1","g":"HP","v":15.6},{"i":"PD1","g":"HP","v":18.0},{"i":"PD1","g":"HP","v":24.6},
{"i":"PD1","g":"NG","v":1.8},{"i":"PD1","g":"NG","v":2.2},{"i":"PD1","g":"NG","v":2.6},{"i":"PD1","g":"NG","v":3.0},{"i":"PD1","g":"NG","v":3.3},{"i":"PD1","g":"NG","v":3.6},{"i":"PD1","g":"NG","v":3.9},{"i":"PD1","g":"NG","v":4.2},{"i":"PD1","g":"NG","v":4.4},{"i":"PD1","g":"NG","v":4.6},{"i":"PD1","g":"NG","v":4.8},{"i":"PD1","g":"NG","v":5.0},{"i":"PD1","g":"NG","v":5.2},{"i":"PD1","g":"NG","v":5.4},{"i":"PD1","g":"NG","v":5.6},{"i":"PD1","g":"NG","v":5.8},{"i":"PD1","g":"NG","v":6.0},{"i":"PD1","g":"NG","v":6.2},{"i":"PD1","g":"NG","v":6.4},{"i":"PD1","g":"NG","v":6.6},{"i":"PD1","g":"NG","v":6.8},{"i":"PD1","g":"NG","v":7.0},{"i":"PD1","g":"NG","v":7.2},{"i":"PD1","g":"NG","v":7.5},{"i":"PD1","g":"NG","v":7.8},{"i":"PD1","g":"NG","v":8.1},{"i":"PD1","g":"NG","v":8.4},{"i":"PD1","g":"NG","v":8.7},{"i":"PD1","g":"NG","v":9.0},{"i":"PD1","g":"NG","v":9.5},{"i":"PD1","g":"NG","v":10.0},{"i":"PD1","g":"NG","v":10.4},
{"i":"PD1","g":"PTC","v":1.5},{"i":"PD1","g":"PTC","v":2.0},{"i":"PD1","g":"PTC","v":2.5},{"i":"PD1","g":"PTC","v":3.2},{"i":"PD1","g":"PTC","v":3.8},{"i":"PD1","g":"PTC","v":4.5},{"i":"PD1","g":"PTC","v":5.2},{"i":"PD1","g":"PTC","v":5.8},{"i":"PD1","g":"PTC","v":6.3},{"i":"PD1","g":"PTC","v":6.8},{"i":"PD1","g":"PTC","v":7.2},{"i":"PD1","g":"PTC","v":7.6},{"i":"PD1","g":"PTC","v":8.0},{"i":"PD1","g":"PTC","v":8.3},{"i":"PD1","g":"PTC","v":8.6},{"i":"PD1","g":"PTC","v":8.9},{"i":"PD1","g":"PTC","v":9.2},{"i":"PD1","g":"PTC","v":9.5},{"i":"PD1","g":"PTC","v":9.8},{"i":"PD1","g":"PTC","v":10.1},{"i":"PD1","g":"PTC","v":10.4},{"i":"PD1","g":"PTC","v":10.7},{"i":"PD1","g":"PTC","v":11.0},{"i":"PD1","g":"PTC","v":11.3},{"i":"PD1","g":"PTC","v":11.6},{"i":"PD1","g":"PTC","v":11.9},{"i":"PD1","g":"PTC","v":12.2},{"i":"PD1","g":"PTC","v":12.5},{"i":"PD1","g":"PTC","v":12.8},{"i":"PD1","g":"PTC","v":13.1},{"i":"PD1","g":"PTC","v":13.4},{"i":"PD1","g":"PTC","v":13.7},{"i":"PD1","g":"PTC","v":14.0},{"i":"PD1","g":"PTC","v":14.4},{"i":"PD1","g":"PTC","v":14.8},{"i":"PD1","g":"PTC","v":15.2},{"i":"PD1","g":"PTC","v":15.6},{"i":"PD1","g":"PTC","v":16.0},{"i":"PD1","g":"PTC","v":16.5},{"i":"PD1","g":"PTC","v":17.0},{"i":"PD1","g":"PTC","v":17.5},{"i":"PD1","g":"PTC","v":18.0},{"i":"PD1","g":"PTC","v":18.6},{"i":"PD1","g":"PTC","v":19.2},{"i":"PD1","g":"PTC","v":20.0},{"i":"PD1","g":"PTC","v":21.0},{"i":"PD1","g":"PTC","v":22.0},{"i":"PD1","g":"PTC","v":25.9},
{"i":"PD1","g":"PTC","v":6.0},{"i":"PD1","g":"PTC","v":7.0},{"i":"PD1","g":"PTC","v":7.8},{"i":"PD1","g":"PTC","v":8.5},{"i":"PD1","g":"PTC","v":9.0},{"i":"PD1","g":"PTC","v":9.6},{"i":"PD1","g":"PTC","v":10.0},{"i":"PD1","g":"PTC","v":10.3},{"i":"PD1","g":"PTC","v":10.6},{"i":"PD1","g":"PTC","v":10.9},{"i":"PD1","g":"PTC","v":11.2},{"i":"PD1","g":"PTC","v":11.5},{"i":"PD1","g":"PTC","v":11.8},{"i":"PD1","g":"PTC","v":12.1},{"i":"PD1","g":"PTC","v":12.4},{"i":"PD1","g":"PTC","v":12.7},{"i":"PD1","g":"PTC","v":13.0},{"i":"PD1","g":"PTC","v":13.5},{"i":"PD1","g":"PTC","v":14.2},{"i":"PD1","g":"PTC","v":15.0},{"i":"PD1","g":"PTC","v":15.8},{"i":"PD1","g":"PTC","v":16.8},{"i":"PD1","g":"PTC","v":9.4},{"i":"PD1","g":"PTC","v":4.0},{"i":"PD1","g":"PTC","v":2.8},
{"i":"CD4","g":"HP","v":2.0},{"i":"CD4","g":"HP","v":2.3},{"i":"CD4","g":"HP","v":2.6},{"i":"CD4","g":"HP","v":2.9},{"i":"CD4","g":"HP","v":3.2},{"i":"CD4","g":"HP","v":3.5},{"i":"CD4","g":"HP","v":3.8},{"i":"CD4","g":"HP","v":4.0},{"i":"CD4","g":"HP","v":4.2},{"i":"CD4","g":"HP","v":4.4},{"i":"CD4","g":"HP","v":4.6},{"i":"CD4","g":"HP","v":4.8},{"i":"CD4","g":"HP","v":5.0},{"i":"CD4","g":"HP","v":5.2},{"i":"CD4","g":"HP","v":5.4},{"i":"CD4","g":"HP","v":5.6},{"i":"CD4","g":"HP","v":5.8},{"i":"CD4","g":"HP","v":6.0},{"i":"CD4","g":"HP","v":6.2},{"i":"CD4","g":"HP","v":6.4},{"i":"CD4","g":"HP","v":6.6},{"i":"CD4","g":"HP","v":6.8},{"i":"CD4","g":"HP","v":7.0},{"i":"CD4","g":"HP","v":7.2},{"i":"CD4","g":"HP","v":7.4},{"i":"CD4","g":"HP","v":7.6},{"i":"CD4","g":"HP","v":7.8},{"i":"CD4","g":"HP","v":8.0},{"i":"CD4","g":"HP","v":8.3},{"i":"CD4","g":"HP","v":8.6},{"i":"CD4","g":"HP","v":8.9},{"i":"CD4","g":"HP","v":9.2},{"i":"CD4","g":"HP","v":9.5},{"i":"CD4","g":"HP","v":9.8},{"i":"CD4","g":"HP","v":10.1},{"i":"CD4","g":"HP","v":10.5},{"i":"CD4","g":"HP","v":12.2},{"i":"CD4","g":"HP","v":18.1},
{"i":"CD4","g":"NG","v":0.95},{"i":"CD4","g":"NG","v":1.4},{"i":"CD4","g":"NG","v":1.8},{"i":"CD4","g":"NG","v":2.1},{"i":"CD4","g":"NG","v":2.4},{"i":"CD4","g":"NG","v":2.6},{"i":"CD4","g":"NG","v":2.8},{"i":"CD4","g":"NG","v":3.0},{"i":"CD4","g":"NG","v":3.2},{"i":"CD4","g":"NG","v":3.4},{"i":"CD4","g":"NG","v":3.6},{"i":"CD4","g":"NG","v":3.8},{"i":"CD4","g":"NG","v":4.0},{"i":"CD4","g":"NG","v":4.2},{"i":"CD4","g":"NG","v":4.4},{"i":"CD4","g":"NG","v":4.6},{"i":"CD4","g":"NG","v":4.8},{"i":"CD4","g":"NG","v":5.0},{"i":"CD4","g":"NG","v":5.2},{"i":"CD4","g":"NG","v":5.4},{"i":"CD4","g":"NG","v":5.6},{"i":"CD4","g":"NG","v":5.8},{"i":"CD4","g":"NG","v":6.0},{"i":"CD4","g":"NG","v":6.2},{"i":"CD4","g":"NG","v":6.5},{"i":"CD4","g":"NG","v":6.8},{"i":"CD4","g":"NG","v":7.1},{"i":"CD4","g":"NG","v":7.5},{"i":"CD4","g":"NG","v":8.0},{"i":"CD4","g":"NG","v":8.6},{"i":"CD4","g":"NG","v":9.0},
{"i":"CD4","g":"PTC","v":1.5},{"i":"CD4","g":"PTC","v":1.8},{"i":"CD4","g":"PTC","v":2.2},{"i":"CD4","g":"PTC","v":2.6},{"i":"CD4","g":"PTC","v":3.0},{"i":"CD4","g":"PTC","v":3.4},{"i":"CD4","g":"PTC","v":3.8},{"i":"CD4","g":"PTC","v":4.2},{"i":"CD4","g":"PTC","v":4.6},{"i":"CD4","g":"PTC","v":5.0},{"i":"CD4","g":"PTC","v":5.3},{"i":"CD4","g":"PTC","v":5.6},{"i":"CD4","g":"PTC","v":5.9},{"i":"CD4","g":"PTC","v":6.2},{"i":"CD4","g":"PTC","v":6.5},{"i":"CD4","g":"PTC","v":6.8},{"i":"CD4","g":"PTC","v":7.1},{"i":"CD4","g":"PTC","v":7.4},{"i":"CD4","g":"PTC","v":7.7},{"i":"CD4","g":"PTC","v":8.0},{"i":"CD4","g":"PTC","v":8.3},{"i":"CD4","g":"PTC","v":8.6},{"i":"CD4","g":"PTC","v":8.9},{"i":"CD4","g":"PTC","v":9.2},{"i":"CD4","g":"PTC","v":9.5},{"i":"CD4","g":"PTC","v":9.8},{"i":"CD4","g":"PTC","v":10.1},{"i":"CD4","g":"PTC","v":10.4},{"i":"CD4","g":"PTC","v":10.7},{"i":"CD4","g":"PTC","v":11.0},{"i":"CD4","g":"PTC","v":11.3},{"i":"CD4","g":"PTC","v":11.6},{"i":"CD4","g":"PTC","v":11.9},{"i":"CD4","g":"PTC","v":12.2},{"i":"CD4","g":"PTC","v":12.6},{"i":"CD4","g":"PTC","v":13.0},{"i":"CD4","g":"PTC","v":13.5},{"i":"CD4","g":"PTC","v":14.6},{"i":"CD4","g":"PTC","v":16.4},{"i":"CD4","g":"PTC","v":18.2},
{"i":"CD4","g":"PTC","v":3.2},{"i":"CD4","g":"PTC","v":4.0},{"i":"CD4","g":"PTC","v":4.8},{"i":"CD4","g":"PTC","v":5.5},{"i":"CD4","g":"PTC","v":6.0},{"i":"CD4","g":"PTC","v":6.6},{"i":"CD4","g":"PTC","v":7.0},{"i":"CD4","g":"PTC","v":7.3},{"i":"CD4","g":"PTC","v":7.6},{"i":"CD4","g":"PTC","v":7.9},{"i":"CD4","g":"PTC","v":8.2},{"i":"CD4","g":"PTC","v":8.5},{"i":"CD4","g":"PTC","v":8.8},{"i":"CD4","g":"PTC","v":9.1},{"i":"CD4","g":"PTC","v":9.4},{"i":"CD4","g":"PTC","v":9.7},{"i":"CD4","g":"PTC","v":10.0},{"i":"CD4","g":"PTC","v":10.5},{"i":"CD4","g":"PTC","v":11.1},{"i":"CD4","g":"PTC","v":11.8},{"i":"CD4","g":"PTC","v":12.4},{"i":"CD4","g":"PTC","v":13.2},{"i":"CD4","g":"PTC","v":2.4},{"i":"CD4","g":"PTC","v":5.8},{"i":"CD4","g":"PTC","v":8.0},
{"i":"CD8","g":"HP","v":1.5},{"i":"CD8","g":"HP","v":1.8},{"i":"CD8","g":"HP","v":2.1},{"i":"CD8","g":"HP","v":2.4},{"i":"CD8","g":"HP","v":2.7},{"i":"CD8","g":"HP","v":3.0},{"i":"CD8","g":"HP","v":3.2},{"i":"CD8","g":"HP","v":3.4},{"i":"CD8","g":"HP","v":3.6},{"i":"CD8","g":"HP","v":3.8},{"i":"CD8","g":"HP","v":4.0},{"i":"CD8","g":"HP","v":4.2},{"i":"CD8","g":"HP","v":4.4},{"i":"CD8","g":"HP","v":4.5},{"i":"CD8","g":"HP","v":4.6},{"i":"CD8","g":"HP","v":4.8},{"i":"CD8","g":"HP","v":5.0},{"i":"CD8","g":"HP","v":5.1},{"i":"CD8","g":"HP","v":5.2},{"i":"CD8","g":"HP","v":5.4},{"i":"CD8","g":"HP","v":5.6},{"i":"CD8","g":"HP","v":5.8},{"i":"CD8","g":"HP","v":6.0},{"i":"CD8","g":"HP","v":6.2},{"i":"CD8","g":"HP","v":6.4},{"i":"CD8","g":"HP","v":6.6},{"i":"CD8","g":"HP","v":6.8},{"i":"CD8","g":"HP","v":7.0},{"i":"CD8","g":"HP","v":7.3},{"i":"CD8","g":"HP","v":7.6},{"i":"CD8","g":"HP","v":7.9},{"i":"CD8","g":"HP","v":9.5},{"i":"CD8","g":"HP","v":9.9},{"i":"CD8","g":"HP","v":17.0},
{"i":"CD8","g":"NG","v":1.1},{"i":"CD8","g":"NG","v":1.3},{"i":"CD8","g":"NG","v":1.5},{"i":"CD8","g":"NG","v":1.7},{"i":"CD8","g":"NG","v":1.9},{"i":"CD8","g":"NG","v":2.0},{"i":"CD8","g":"NG","v":2.1},{"i":"CD8","g":"NG","v":2.2},{"i":"CD8","g":"NG","v":2.3},{"i":"CD8","g":"NG","v":2.4},{"i":"CD8","g":"NG","v":2.5},{"i":"CD8","g":"NG","v":2.6},{"i":"CD8","g":"NG","v":2.7},{"i":"CD8","g":"NG","v":2.8},{"i":"CD8","g":"NG","v":2.9},{"i":"CD8","g":"NG","v":3.0},{"i":"CD8","g":"NG","v":3.1},{"i":"CD8","g":"NG","v":3.2},{"i":"CD8","g":"NG","v":3.3},{"i":"CD8","g":"NG","v":3.4},{"i":"CD8","g":"NG","v":3.5},{"i":"CD8","g":"NG","v":3.7},{"i":"CD8","g":"NG","v":3.9},{"i":"CD8","g":"NG","v":4.1},{"i":"CD8","g":"NG","v":4.4},{"i":"CD8","g":"NG","v":4.8},{"i":"CD8","g":"NG","v":5.2},{"i":"CD8","g":"NG","v":7.2},
{"i":"CD8","g":"PTC","v":1.2},{"i":"CD8","g":"PTC","v":1.5},{"i":"CD8","g":"PTC","v":1.8},{"i":"CD8","g":"PTC","v":2.0},{"i":"CD8","g":"PTC","v":2.2},{"i":"CD8","g":"PTC","v":2.4},{"i":"CD8","g":"PTC","v":2.6},{"i":"CD8","g":"PTC","v":2.8},{"i":"CD8","g":"PTC","v":3.0},{"i":"CD8","g":"PTC","v":3.2},{"i":"CD8","g":"PTC","v":3.4},{"i":"CD8","g":"PTC","v":3.6},{"i":"CD8","g":"PTC","v":3.8},{"i":"CD8","g":"PTC","v":4.0},{"i":"CD8","g":"PTC","v":4.2},{"i":"CD8","g":"PTC","v":4.4},{"i":"CD8","g":"PTC","v":4.6},{"i":"CD8","g":"PTC","v":4.8},{"i":"CD8","g":"PTC","v":5.0},{"i":"CD8","g":"PTC","v":5.2},{"i":"CD8","g":"PTC","v":5.4},{"i":"CD8","g":"PTC","v":5.6},{"i":"CD8","g":"PTC","v":5.8},{"i":"CD8","g":"PTC","v":6.0},{"i":"CD8","g":"PTC","v":6.2},{"i":"CD8","g":"PTC","v":6.4},{"i":"CD8","g":"PTC","v":6.6},{"i":"CD8","g":"PTC","v":6.8},{"i":"CD8","g":"PTC","v":7.0},{"i":"CD8","g":"PTC","v":7.3},{"i":"CD8","g":"PTC","v":7.6},{"i":"CD8","g":"PTC","v":8.0},{"i":"CD8","g":"PTC","v":8.3},{"i":"CD8","g":"PTC","v":9.9},{"i":"CD8","g":"PTC","v":11.0},{"i":"CD8","g":"PTC","v":11.3},{"i":"CD8","g":"PTC","v":14.1},
{"i":"CD8","g":"PTC","v":2.1},{"i":"CD8","g":"PTC","v":2.5},{"i":"CD8","g":"PTC","v":2.9},{"i":"CD8","g":"PTC","v":3.3},{"i":"CD8","g":"PTC","v":3.6},{"i":"CD8","g":"PTC","v":3.9},{"i":"CD8","g":"PTC","v":4.1},{"i":"CD8","g":"PTC","v":4.3},{"i":"CD8","g":"PTC","v":4.5},{"i":"CD8","g":"PTC","v":4.7},{"i":"CD8","g":"PTC","v":4.9},{"i":"CD8","g":"PTC","v":5.1},{"i":"CD8","g":"PTC","v":5.3},{"i":"CD8","g":"PTC","v":5.5},{"i":"CD8","g":"PTC","v":5.7},{"i":"CD8","g":"PTC","v":5.9},{"i":"CD8","g":"PTC","v":6.1},{"i":"CD8","g":"PTC","v":6.5},{"i":"CD8","g":"PTC","v":6.9},{"i":"CD8","g":"PTC","v":7.4},{"i":"CD8","g":"PTC","v":8.5},{"i":"CD8","g":"PTC","v":1.6},{"i":"CD8","g":"PTC","v":3.1},{"i":"CD8","g":"PTC","v":4.6},{"i":"CD8","g":"PTC","v":10.5}
],
"cs":[
{"i":"PD1","g":"HP","m":8.7,"lo":4.3,"hi":13.1},{"i":"PD1","g":"NG","m":6.0,"lo":4.0,"hi":8.0},{"i":"PD1","g":"PTC","m":11.4,"lo":6.8,"hi":16.1},
{"i":"CD4","g":"HP","m":6.46,"lo":4.3,"hi":8.6},{"i":"CD4","g":"NG","m":4.4,"lo":2.7,"hi":6.1},{"i":"CD4","g":"PTC","m":7.9,"lo":4.8,"hi":11.0},
{"i":"CD8","g":"HP","m":5.2,"lo":3.3,"hi":7.1},{"i":"CD8","g":"NG","m":3.0,"lo":1.9,"hi":4.1},{"i":"CD8","g":"PTC","m":4.9,"lo":2.9,"hi":6.9}
],
"cb":[
{"i":"PD1","g1":"HP","g2":"PTC","y":29.9,"t":"***"},{"i":"PD1","g1":"HP","g2":"NG","y":25.1,"t":"**"},{"i":"PD1","g1":"NG","g2":"PTC","y":21.35,"t":"***"},
{"i":"CD4","g1":"HP","g2":"PTC","y":29.6,"t":"**"},{"i":"CD4","g1":"HP","g2":"NG","y":23.6,"t":"***"},{"i":"CD4","g1":"NG","g2":"PTC","y":22.5,"t":"***"},
{"i":"CD8","g1":"HP","g2":"NG","y":28.0,"t":"***"},{"i":"CD8","g1":"NG","g2":"PTC","y":26.8,"t":"***"}
]
},
"vconcat":[
{
 "width":1498,"height":641,
 "title":{"text":"A","dx":-139,"offset":-19},
 "resolve":{"scale":{"y":"independent"},"axis":{"x":"independent","y":"independent"}},
 "layer":[
  {"layer":[
   {"data":{"name":"a"},
    "transform":[{"filter":"datum.v >= 5"},{"calculate":"datum.i+'|'+datum.g","as":"s"},{"calculate":"floor(datum.v/(datum.g=='PTC'?0.4:0.6))","as":"yb"},{"window":[{"op":"row_number","as":"k"}],"groupby":["s","yb"]},{"joinaggregate":[{"op":"count","as":"n"}],"groupby":["s","yb"]},{"calculate":"(datum.k%2==1?1:-1)*floor(datum.k/2)+(datum.n%2==0?0.5:0)","as":"o"}],
    "mark":{"type":"point","filled":true,"opacity":1,"size":110},
    "encoding":{
     "x":{"field":"s","type":"nominal","scale":{"type":"band","domain":["T3|HP","T3|NG","T3|PTC","T4|HP","T4|NG","T4|PTC","FT3|HP","FT3|NG","FT3|PTC","FT4|HP","FT4|NG","FT4|PTC","TSH|HP","TSH|NG","TSH|PTC"],"paddingInner":0,"paddingOuter":0.17},"axis":{"orient":"top","domain":false,"ticks":false,"labelExpr":"split(datum.label,'|')[1]","labelFontSize":35,"labelPadding":17,"labelAngle":0,"title":null}},
     "xOffset":{"field":"o","type":"quantitative","scale":{"domain":[-5.5,5.5]}},
     "y":{"field":"v","type":"quantitative","scale":{"domain":[5,20],"range":[251,0]},"axis":{"orient":"left","values":[5,10,15,20],"format":"d","tickSize":15,"labelFontSize":48,"labelPadding":4,"title":["the contents of thyroid","function indexes"],"titleFontSize":48,"titleLineHeight":56,"titleY":306,"titlePadding":27}},
     "color":{"field":"g","type":"nominal","scale":{"domain":["HP","NG","PTC"],"range":["#982b2b","#2a3a9e","#000000"]},"legend":null},
     "shape":{"field":"g","type":"nominal","scale":{"domain":["HP","NG","PTC"],"range":["circle","square","triangle-up"]},"legend":null}}},
   {"data":{"name":"as"},
    "transform":[{"filter":"datum.hi > 5"},{"calculate":"datum.i+'|'+datum.g","as":"s"},{"calculate":"max(datum.lo,5)","as":"l2"}],
    "mark":{"type":"rule","strokeWidth":3.5},
    "encoding":{"x":{"field":"s","type":"nominal","scale":{"type":"band","domain":["T3|HP","T3|NG","T3|PTC","T4|HP","T4|NG","T4|PTC","FT3|HP","FT3|NG","FT3|PTC","FT4|HP","FT4|NG","FT4|PTC","TSH|HP","TSH|NG","TSH|PTC"],"paddingInner":0,"paddingOuter":0.17}},
     "y":{"field":"l2","type":"quantitative","scale":{"domain":[5,20],"range":[251,0]}},"y2":{"field":"hi"},
     "color":{"field":"g","type":"nominal","scale":{"domain":["HP","NG","PTC"],"range":["#982b2b","#2a3a9e","#000000"]},"legend":null}}},
   {"data":{"name":"as"},
    "transform":[{"filter":"datum.m >= 5"},{"calculate":"datum.i+'|'+datum.g","as":"s"}],
    "mark":{"type":"tick","orient":"horizontal","size":63,"thickness":3.5,"opacity":1},
    "encoding":{"x":{"field":"s","type":"nominal","scale":{"type":"band","domain":["T3|HP","T3|NG","T3|PTC","T4|HP","T4|NG","T4|PTC","FT3|HP","FT3|NG","FT3|PTC","FT4|HP","FT4|NG","FT4|PTC","TSH|HP","TSH|NG","TSH|PTC"],"paddingInner":0,"paddingOuter":0.17}},
     "y":{"field":"m","type":"quantitative","scale":{"domain":[5,20],"range":[251,0]}},
     "color":{"field":"g","type":"nominal","scale":{"domain":["HP","NG","PTC"],"range":["#982b2b","#2a3a9e","#000000"]},"legend":null}}},
   {"data":{"name":"as"},
    "transform":[{"calculate":"datum.i+'|'+datum.g","as":"s"},{"fold":["lo","hi"],"as":["k","cv"]},{"filter":"datum.cv >= 5"}],
    "mark":{"type":"tick","orient":"horizontal","size":32,"thickness":3.5,"opacity":1},
    "encoding":{"x":{"field":"s","type":"nominal","scale":{"type":"band","domain":["T3|HP","T3|NG","T3|PTC","T4|HP","T4|NG","T4|PTC","FT3|HP","FT3|NG","FT3|PTC","FT4|HP","FT4|NG","FT4|PTC","TSH|HP","TSH|NG","TSH|PTC"],"paddingInner":0,"paddingOuter":0.17}},
     "y":{"field":"cv","type":"quantitative","scale":{"domain":[5,20],"range":[251,0]}},
     "color":{"field":"g","type":"nominal","scale":{"domain":["HP","NG","PTC"],"range":["#982b2b","#2a3a9e","#000000"]},"legend":null}}},
   {"data":{"name":"ab"},
    "transform":[{"calculate":"datum.i+'|'+datum.g1","as":"s1"},{"calculate":"datum.i+'|'+datum.g2","as":"s2"}],
    "mark":{"type":"rule","strokeWidth":3.5,"color":"#000"},
    "encoding":{"x":{"field":"s1","type":"nominal","scale":{"type":"band","domain":["T3|HP","T3|NG","T3|PTC","T4|HP","T4|NG","T4|PTC","FT3|HP","FT3|NG","FT3|PTC","FT4|HP","FT4|NG","FT4|PTC","TSH|HP","TSH|NG","TSH|PTC"],"paddingInner":0,"paddingOuter":0.17}},"x2":{"field":"s2"},
     "y":{"field":"y","type":"quantitative","scale":{"domain":[5,20],"range":[251,0]}}}},
   {"data":{"name":"ab"},
    "transform":[{"calculate":"datum.i+'|'+datum.g1","as":"s1"},{"calculate":"datum.i+'|'+datum.g2","as":"s2"},{"fold":["s1","s2"],"as":["k","sv"]}],
    "mark":{"type":"tick","orient":"vertical","size":40,"thickness":3.5,"opacity":1,"color":"#000"},
    "encoding":{"x":{"field":"sv","type":"nominal","scale":{"type":"band","domain":["T3|HP","T3|NG","T3|PTC","T4|HP","T4|NG","T4|PTC","FT3|HP","FT3|NG","FT3|PTC","FT4|HP","FT4|NG","FT4|PTC","TSH|HP","TSH|NG","TSH|PTC"],"paddingInner":0,"paddingOuter":0.17}},
     "y":{"field":"y","type":"quantitative","scale":{"domain":[5,20],"range":[251,0]}}}},
   {"data":{"name":"ab"},
    "transform":[{"filter":"datum.g1=='HP' && datum.g2=='PTC'"},{"calculate":"datum.i+'|NG'","as":"sm"}],
    "mark":{"type":"text","fontSize":44,"baseline":"alphabetic","dy":1},
    "encoding":{"x":{"field":"sm","type":"nominal","scale":{"type":"band","domain":["T3|HP","T3|NG","T3|PTC","T4|HP","T4|NG","T4|PTC","FT3|HP","FT3|NG","FT3|PTC","FT4|HP","FT4|NG","FT4|PTC","TSH|HP","TSH|NG","TSH|PTC"],"paddingInner":0,"paddingOuter":0.17}},
     "y":{"field":"y","type":"quantitative","scale":{"domain":[5,20],"range":[251,0]}},"text":{"field":"t"}}},
   {"data":{"name":"ab"},
    "transform":[{"filter":"!(datum.g1=='HP' && datum.g2=='PTC')"},{"calculate":"datum.i+'|'+datum.g2","as":"sm"}],
    "mark":{"type":"text","fontSize":44,"baseline":"alphabetic","dy":1},
    "encoding":{"x":{"field":"sm","type":"nominal","bandPosition":0,"scale":{"type":"band","domain":["T3|HP","T3|NG","T3|PTC","T4|HP","T4|NG","T4|PTC","FT3|HP","FT3|NG","FT3|PTC","FT4|HP","FT4|NG","FT4|PTC","TSH|HP","TSH|NG","TSH|PTC"],"paddingInner":0,"paddingOuter":0.17}},
     "y":{"field":"y","type":"quantitative","scale":{"domain":[5,20],"range":[251,0]}},"text":{"field":"t"}}}
  ]},
  {"layer":[
   {"data":{"name":"a"},
    "transform":[{"filter":"datum.g=='HP' && datum.i!='T3'"},{"aggregate":[{"op":"count","as":"n"}],"groupby":["i"]},{"calculate":"datum.i+'|HP'","as":"s"}],
    "mark":{"type":"rule","strokeDash":[0.1,11.5],"strokeWidth":4,"strokeCap":"round","color":"#000"},
    "encoding":{"x":{"field":"s","type":"nominal","bandPosition":0,"scale":{"type":"band","domain":["T3|HP","T3|NG","T3|PTC","T4|HP","T4|NG","T4|PTC","FT3|HP","FT3|NG","FT3|PTC","FT4|HP","FT4|NG","FT4|PTC","TSH|HP","TSH|NG","TSH|PTC"],"paddingInner":0,"paddingOuter":0.17},"axis":{"orient":"bottom","tickSize":18,"labelExpr":"split(datum.label,'|')[1]=='NG' ? split(datum.label,'|')[0] : ''","labelFontSize":46,"labelPadding":12,"labelAngle":0,"title":null}},
     "y":{"datum":-1.08,"type":"quantitative","scale":{"domain":[0,5],"range":[641,294]}},"y2":{"datum":9.5}}},
   {"data":{"name":"a"},
    "transform":[{"filter":"datum.v < 5"},{"calculate":"datum.i+'|'+datum.g","as":"s"},{"calculate":"floor(datum.v/(datum.i=='TSH'?0.3:(datum.i=='FT3'?(datum.g=='PTC'?0.08:0.18):(datum.g=='PTC'?0.04:0.06))))","as":"yb"},{"window":[{"op":"row_number","as":"k"}],"groupby":["s","yb"]},{"joinaggregate":[{"op":"count","as":"n"}],"groupby":["s","yb"]},{"calculate":"(datum.k%2==1?1:-1)*floor(datum.k/2)+(datum.n%2==0?0.5:0)","as":"o"}],
    "mark":{"type":"point","filled":true,"opacity":1,"size":110},
    "encoding":{
     "x":{"field":"s","type":"nominal","scale":{"type":"band","domain":["T3|HP","T3|NG","T3|PTC","T4|HP","T4|NG","T4|PTC","FT3|HP","FT3|NG","FT3|PTC","FT4|HP","FT4|NG","FT4|PTC","TSH|HP","TSH|NG","TSH|PTC"],"paddingInner":0,"paddingOuter":0.17}},
     "xOffset":{"field":"o","type":"quantitative","scale":{"domain":[-5.5,5.5]}},
     "y":{"field":"v","type":"quantitative","scale":{"domain":[0,5],"range":[641,294]},"axis":{"orient":"left","values":[0,1,2,3,4,5],"format":"d","tickSize":15,"labelFontSize":48,"labelPadding":4,"title":null}},
     "color":{"field":"g","type":"nominal","scale":{"domain":["HP","NG","PTC"],"range":["#982b2b","#2a3a9e","#000000"]},"legend":null},
     "shape":{"field":"g","type":"nominal","scale":{"domain":["HP","NG","PTC"],"range":["circle","square","triangle-up"]},"legend":null}}},
   {"data":{"name":"as"},
    "transform":[{"filter":"datum.lo < 5"},{"calculate":"datum.i+'|'+datum.g","as":"s"},{"calculate":"min(datum.hi,5)","as":"h2"}],
    "mark":{"type":"rule","strokeWidth":3.5},
    "encoding":{"x":{"field":"s","type":"nominal","scale":{"type":"band","domain":["T3|HP","T3|NG","T3|PTC","T4|HP","T4|NG","T4|PTC","FT3|HP","FT3|NG","FT3|PTC","FT4|HP","FT4|NG","FT4|PTC","TSH|HP","TSH|NG","TSH|PTC"],"paddingInner":0,"paddingOuter":0.17}},
     "y":{"field":"lo","type":"quantitative","scale":{"domain":[0,5],"range":[641,294]}},"y2":{"field":"h2"},
     "color":{"field":"g","type":"nominal","scale":{"domain":["HP","NG","PTC"],"range":["#982b2b","#2a3a9e","#000000"]},"legend":null}}},
   {"data":{"name":"as"},
    "transform":[{"filter":"datum.m < 5"},{"calculate":"datum.i+'|'+datum.g","as":"s"}],
    "mark":{"type":"tick","orient":"horizontal","size":63,"thickness":3.5,"opacity":1},
    "encoding":{"x":{"field":"s","type":"nominal","scale":{"type":"band","domain":["T3|HP","T3|NG","T3|PTC","T4|HP","T4|NG","T4|PTC","FT3|HP","FT3|NG","FT3|PTC","FT4|HP","FT4|NG","FT4|PTC","TSH|HP","TSH|NG","TSH|PTC"],"paddingInner":0,"paddingOuter":0.17}},
     "y":{"field":"m","type":"quantitative","scale":{"domain":[0,5],"range":[641,294]}},
     "color":{"field":"g","type":"nominal","scale":{"domain":["HP","NG","PTC"],"range":["#982b2b","#2a3a9e","#000000"]},"legend":null}}},
   {"data":{"name":"as"},
    "transform":[{"calculate":"datum.i+'|'+datum.g","as":"s"},{"fold":["lo","hi"],"as":["k","cv"]},{"filter":"datum.cv < 5"}],
    "mark":{"type":"tick","orient":"horizontal","size":32,"thickness":3.5,"opacity":1},
    "encoding":{"x":{"field":"s","type":"nominal","scale":{"type":"band","domain":["T3|HP","T3|NG","T3|PTC","T4|HP","T4|NG","T4|PTC","FT3|HP","FT3|NG","FT3|PTC","FT4|HP","FT4|NG","FT4|PTC","TSH|HP","TSH|NG","TSH|PTC"],"paddingInner":0,"paddingOuter":0.17}},
     "y":{"field":"cv","type":"quantitative","scale":{"domain":[0,5],"range":[641,294]}},
     "color":{"field":"g","type":"nominal","scale":{"domain":["HP","NG","PTC"],"range":["#982b2b","#2a3a9e","#000000"]},"legend":null}}}
  ]}
 ]
},
{
 "spacing":54,
 "resolve":{"scale":{"xOffset":"independent"}},
 "hconcat":[
 {
  "width":548,"height":376,
  "title":{"text":"B","dx":-135,"offset":0},
  "resolve":{"scale":{"y":"independent"},"axis":{"x":"independent","y":"independent"}},
  "layer":[
   {"layer":[
    {"data":{"name":"b"},
     "transform":[{"filter":"datum.v > 100"},{"calculate":"datum.i+'|'+datum.g","as":"s"},{"calculate":"floor(datum.v/60)","as":"yb"},{"window":[{"op":"row_number","as":"k"}],"groupby":["s","yb"]},{"joinaggregate":[{"op":"count","as":"n"}],"groupby":["s","yb"]},{"calculate":"(datum.k%2==1?1:-1)*floor(datum.k/2)+(datum.n%2==0?0.5:0)","as":"o"}],
     "mark":{"type":"point","filled":true,"opacity":1,"size":100},
     "encoding":{
      "x":{"field":"s","type":"nominal","scale":{"type":"band","domain":["TGAb|HP","TGAb|NG","TGAb|PTC","TPO|HP","TPO|NG","TPO|PTC"],"paddingInner":0,"paddingOuter":0.12},"axis":{"orient":"top","domain":false,"ticks":false,"labelExpr":"split(datum.label,'|')[1]","labelFontSize":32,"labelPadding":16,"labelAngle":0,"title":null}},
      "xOffset":{"field":"o","type":"quantitative","scale":{"domain":[-5,5]}},
      "y":{"field":"v","type":"quantitative","scale":{"domain":[100,800],"range":[166,0]},"axis":{"orient":"left","values":[200,400,600,800],"tickSize":15,"labelFontSize":46,"labelPadding":4,"title":["the contents of thyroid","function indexes(IU/mL)"],"titleFontSize":48,"titleLineHeight":56,"titleY":168,"titlePadding":18}},
      "color":{"field":"g","type":"nominal","scale":{"domain":["HP","NG","PTC"],"range":["#982b2b","#2a3a9e","#000000"]},"legend":null},
      "shape":{"field":"g","type":"nominal","scale":{"domain":["HP","NG","PTC"],"range":["circle","square","triangle-up"]},"legend":null}}},
    {"data":{"name":"bs"},
     "transform":[{"filter":"datum.hi > 100"},{"calculate":"datum.i+'|'+datum.g","as":"s"},{"calculate":"max(datum.lo,100)","as":"l2"}],
     "mark":{"type":"rule","strokeWidth":3.5},
     "encoding":{"x":{"field":"s","type":"nominal","scale":{"type":"band","domain":["TGAb|HP","TGAb|NG","TGAb|PTC","TPO|HP","TPO|NG","TPO|PTC"],"paddingInner":0,"paddingOuter":0.12}},
      "y":{"field":"l2","type":"quantitative","scale":{"domain":[100,800],"range":[166,0]}},"y2":{"field":"hi"},
      "color":{"field":"g","type":"nominal","scale":{"domain":["HP","NG","PTC"],"range":["#982b2b","#2a3a9e","#000000"]},"legend":null}}},
    {"data":{"name":"bs"},
     "transform":[{"filter":"datum.m > 100"},{"calculate":"datum.i+'|'+datum.g","as":"s"}],
     "mark":{"type":"tick","orient":"horizontal","size":58,"thickness":3.5,"opacity":1},
     "encoding":{"x":{"field":"s","type":"nominal","scale":{"type":"band","domain":["TGAb|HP","TGAb|NG","TGAb|PTC","TPO|HP","TPO|NG","TPO|PTC"],"paddingInner":0,"paddingOuter":0.12}},
      "y":{"field":"m","type":"quantitative","scale":{"domain":[100,800],"range":[166,0]}},
      "color":{"field":"g","type":"nominal","scale":{"domain":["HP","NG","PTC"],"range":["#982b2b","#2a3a9e","#000000"]},"legend":null}}},
    {"data":{"name":"bs"},
     "transform":[{"calculate":"datum.i+'|'+datum.g","as":"s"},{"fold":["lo","hi"],"as":["k","cv"]},{"filter":"datum.cv > 100"}],
     "mark":{"type":"tick","orient":"horizontal","size":30,"thickness":3.5,"opacity":1},
     "encoding":{"x":{"field":"s","type":"nominal","scale":{"type":"band","domain":["TGAb|HP","TGAb|NG","TGAb|PTC","TPO|HP","TPO|NG","TPO|PTC"],"paddingInner":0,"paddingOuter":0.12}},
      "y":{"field":"cv","type":"quantitative","scale":{"domain":[100,800],"range":[166,0]}},
      "color":{"field":"g","type":"nominal","scale":{"domain":["HP","NG","PTC"],"range":["#982b2b","#2a3a9e","#000000"]},"legend":null}}},
    {"data":{"name":"bb"},
     "transform":[{"calculate":"datum.i+'|'+datum.g1","as":"s1"},{"calculate":"datum.i+'|'+datum.g2","as":"s2"}],
     "mark":{"type":"rule","strokeWidth":3.5,"color":"#000"},
     "encoding":{"x":{"field":"s1","type":"nominal","scale":{"type":"band","domain":["TGAb|HP","TGAb|NG","TGAb|PTC","TPO|HP","TPO|NG","TPO|PTC"],"paddingInner":0,"paddingOuter":0.12}},"x2":{"field":"s2"},
      "y":{"field":"y","type":"quantitative","scale":{"domain":[100,800],"range":[166,0]}}}},
    {"data":{"name":"bb"},
     "transform":[{"calculate":"datum.i+'|'+datum.g1","as":"s1"},{"calculate":"datum.i+'|'+datum.g2","as":"s2"},{"fold":["s1","s2"],"as":["k","sv"]}],
     "mark":{"type":"tick","orient":"vertical","size":35,"thickness":3.5,"opacity":1,"color":"#000"},
     "encoding":{"x":{"field":"sv","type":"nominal","scale":{"type":"band","domain":["TGAb|HP","TGAb|NG","TGAb|PTC","TPO|HP","TPO|NG","TPO|PTC"],"paddingInner":0,"paddingOuter":0.12}},
      "y":{"field":"y","type":"quantitative","scale":{"domain":[100,800],"range":[166,0]}}}},
    {"data":{"name":"bb"},
     "transform":[{"calculate":"datum.i+'|NG'","as":"sm"}],
     "mark":{"type":"text","fontSize":44,"baseline":"alphabetic","dy":1},
     "encoding":{"x":{"field":"sm","type":"nominal","scale":{"type":"band","domain":["TGAb|HP","TGAb|NG","TGAb|PTC","TPO|HP","TPO|NG","TPO|PTC"],"paddingInner":0,"paddingOuter":0.12}},
      "y":{"field":"y","type":"quantitative","scale":{"domain":[100,800],"range":[166,0]}},"text":{"field":"t"}}}
   ]},
   {"layer":[
    {"data":{"name":"b"},
     "transform":[{"filter":"datum.g=='HP' && datum.i!='TGAb'"},{"aggregate":[{"op":"count","as":"n"}],"groupby":["i"]},{"calculate":"datum.i+'|HP'","as":"s"}],
     "mark":{"type":"rule","strokeDash":[0.1,11.5],"strokeWidth":4,"strokeCap":"round","color":"#000"},
     "encoding":{"x":{"field":"s","type":"nominal","bandPosition":0,"scale":{"type":"band","domain":["TGAb|HP","TGAb|NG","TGAb|PTC","TPO|HP","TPO|NG","TPO|PTC"],"paddingInner":0,"paddingOuter":0.12},"axis":{"orient":"bottom","tickSize":18,"labelExpr":"split(datum.label,'|')[1]=='NG' ? split(datum.label,'|')[0] : ''","labelFontSize":50,"labelPadding":14,"labelAngle":0,"title":null}},
      "y":{"datum":-43.8,"type":"quantitative","scale":{"domain":[0,100],"range":[376,198]}},"y2":{"datum":210}}},
    {"data":{"name":"b"},
     "transform":[{"filter":"datum.v <= 100"},{"calculate":"datum.i+'|'+datum.g","as":"s"},{"calculate":"floor(datum.v/4)","as":"yb"},{"window":[{"op":"row_number","as":"k"}],"groupby":["s","yb"]},{"joinaggregate":[{"op":"count","as":"n"}],"groupby":["s","yb"]},{"calculate":"(datum.k%2==1?1:-1)*floor(datum.k/2)+(datum.n%2==0?0.5:0)","as":"o"}],
     "mark":{"type":"point","filled":true,"opacity":1,"size":100},
     "encoding":{
      "x":{"field":"s","type":"nominal","scale":{"type":"band","domain":["TGAb|HP","TGAb|NG","TGAb|PTC","TPO|HP","TPO|NG","TPO|PTC"],"paddingInner":0,"paddingOuter":0.12}},
      "xOffset":{"field":"o","type":"quantitative","scale":{"domain":[-5,5]}},
      "y":{"field":"v","type":"quantitative","scale":{"domain":[0,100],"range":[376,198]},"axis":{"orient":"left","values":[0,50,100],"tickSize":15,"labelFontSize":46,"labelPadding":4,"title":null}},
      "color":{"field":"g","type":"nominal","scale":{"domain":["HP","NG","PTC"],"range":["#982b2b","#2a3a9e","#000000"]},"legend":null},
      "shape":{"field":"g","type":"nominal","scale":{"domain":["HP","NG","PTC"],"range":["circle","square","triangle-up"]},"legend":null}}},
    {"data":{"name":"bs"},
     "transform":[{"filter":"datum.lo < 100"},{"calculate":"datum.i+'|'+datum.g","as":"s"},{"calculate":"min(datum.hi,100)","as":"h2"}],
     "mark":{"type":"rule","strokeWidth":3.5},
     "encoding":{"x":{"field":"s","type":"nominal","scale":{"type":"band","domain":["TGAb|HP","TGAb|NG","TGAb|PTC","TPO|HP","TPO|NG","TPO|PTC"],"paddingInner":0,"paddingOuter":0.12}},
      "y":{"field":"lo","type":"quantitative","scale":{"domain":[0,100],"range":[376,198]}},"y2":{"field":"h2"},
      "color":{"field":"g","type":"nominal","scale":{"domain":["HP","NG","PTC"],"range":["#982b2b","#2a3a9e","#000000"]},"legend":null}}},
    {"data":{"name":"bs"},
     "transform":[{"filter":"datum.m <= 100"},{"calculate":"datum.i+'|'+datum.g","as":"s"}],
     "mark":{"type":"tick","orient":"horizontal","size":58,"thickness":3.5,"opacity":1},
     "encoding":{"x":{"field":"s","type":"nominal","scale":{"type":"band","domain":["TGAb|HP","TGAb|NG","TGAb|PTC","TPO|HP","TPO|NG","TPO|PTC"],"paddingInner":0,"paddingOuter":0.12}},
      "y":{"field":"m","type":"quantitative","scale":{"domain":[0,100],"range":[376,198]}},
      "color":{"field":"g","type":"nominal","scale":{"domain":["HP","NG","PTC"],"range":["#982b2b","#2a3a9e","#000000"]},"legend":null}}},
    {"data":{"name":"bs"},
     "transform":[{"calculate":"datum.i+'|'+datum.g","as":"s"},{"fold":["lo","hi"],"as":["k","cv"]},{"filter":"datum.cv <= 100"}],
     "mark":{"type":"tick","orient":"horizontal","size":30,"thickness":3.5,"opacity":1},
     "encoding":{"x":{"field":"s","type":"nominal","scale":{"type":"band","domain":["TGAb|HP","TGAb|NG","TGAb|PTC","TPO|HP","TPO|NG","TPO|PTC"],"paddingInner":0,"paddingOuter":0.12}},
      "y":{"field":"cv","type":"quantitative","scale":{"domain":[0,100],"range":[376,198]}},
      "color":{"field":"g","type":"nominal","scale":{"domain":["HP","NG","PTC"],"range":["#982b2b","#2a3a9e","#000000"]},"legend":null}}}
   ]}
  ]
 },
 {
  "width":807,"height":378,
  "title":{"text":"C","dx":-35,"offset":50},
  "resolve":{"axis":{"x":"independent"}},
  "layer":[
   {"layer":[
    {"data":{"name":"c"},
     "transform":[{"filter":"datum.g=='HP' && datum.i!='PD1'"},{"aggregate":[{"op":"count","as":"n"}],"groupby":["i"]},{"calculate":"datum.i+'|HP'","as":"s"}],
     "mark":{"type":"rule","strokeDash":[0.1,11.5],"strokeWidth":4,"strokeCap":"round","color":"#000"},
     "encoding":{"x":{"field":"s","type":"nominal","bandPosition":0,"scale":{"type":"band","domain":["PD1|HP","PD1|NG","PD1|PTC","CD4|HP","CD4|NG","CD4|PTC","CD8|HP","CD8|NG","CD8|PTC"],"paddingInner":0,"paddingOuter":0.18},"axis":{"orient":"bottom","tickSize":18,"labelExpr":"split(datum.label,'|')[1]=='NG' ? (split(datum.label,'|')[0]=='PD1' ? 'CD3⁺ PD-1⁺' : (split(datum.label,'|')[0]=='CD4' ? 'CD3⁺CD4⁺PD-1⁺' : 'CD3⁺CD8⁺PD-1⁺')) : ''","labelFontSize":50,"labelPadding":8,"labelOffset":9,"labelAngle":-50,"labelAlign":"right","labelBaseline":"middle","labelLimit":0,"title":null}},
      "y":{"datum":-6.55,"type":"quantitative","scale":{"domain":[-0.8,30],"range":[378,25]}},"y2":{"datum":32.07}}},
    {"data":{"name":"c"},
     "transform":[{"calculate":"datum.i+'|'+datum.g","as":"s"},{"calculate":"floor(datum.v/(datum.g=='PTC'?(datum.i=='CD8'?0.8:1.25):(datum.i=='CD8'?1.0:2.0)))","as":"yb"},{"window":[{"op":"row_number","as":"k"}],"groupby":["s","yb"]},{"joinaggregate":[{"op":"count","as":"n"}],"groupby":["s","yb"]},{"calculate":"(datum.k%2==1?1:-1)*floor(datum.k/2)+(datum.n%2==0?0.5:0)","as":"o"}],
     "mark":{"type":"point","filled":true,"opacity":1,"size":110},
     "encoding":{
      "x":{"field":"s","type":"nominal","scale":{"type":"band","domain":["PD1|HP","PD1|NG","PD1|PTC","CD4|HP","CD4|NG","CD4|PTC","CD8|HP","CD8|NG","CD8|PTC"],"paddingInner":0,"paddingOuter":0.18}},
      "xOffset":{"field":"o","type":"quantitative","scale":{"domain":[-5,5]}},
      "y":{"field":"v","type":"quantitative","scale":{"domain":[-0.8,30],"range":[378,25]},"axis":{"orient":"left","values":[0,10,20,30],"tickSize":15,"labelFontSize":48,"labelPadding":4,"title":"PD-1(%)","titleFontSize":48,"titlePadding":13}},
      "color":{"field":"g","type":"nominal","scale":{"domain":["HP","NG","PTC"],"range":["#982b2b","#2a3a9e","#000000"]},"legend":null},
      "shape":{"field":"g","type":"nominal","scale":{"domain":["HP","NG","PTC"],"range":["circle","square","triangle-up"]},"legend":null}}},
    {"data":{"name":"cs"},
     "transform":[{"calculate":"datum.i+'|'+datum.g","as":"s"}],
     "mark":{"type":"rule","strokeWidth":3.5},
     "encoding":{"x":{"field":"s","type":"nominal","scale":{"type":"band","domain":["PD1|HP","PD1|NG","PD1|PTC","CD4|HP","CD4|NG","CD4|PTC","CD8|HP","CD8|NG","CD8|PTC"],"paddingInner":0,"paddingOuter":0.18}},
      "y":{"field":"lo","type":"quantitative","scale":{"domain":[-0.8,30],"range":[378,25]}},"y2":{"field":"hi"},
      "color":{"field":"g","type":"nominal","scale":{"domain":["HP","NG","PTC"],"range":["#982b2b","#2a3a9e","#000000"]},"legend":null}}},
    {"data":{"name":"cs"},
     "transform":[{"calculate":"datum.i+'|'+datum.g","as":"s"}],
     "mark":{"type":"tick","orient":"horizontal","size":56,"thickness":3.5,"opacity":1},
     "encoding":{"x":{"field":"s","type":"nominal","scale":{"type":"band","domain":["PD1|HP","PD1|NG","PD1|PTC","CD4|HP","CD4|NG","CD4|PTC","CD8|HP","CD8|NG","CD8|PTC"],"paddingInner":0,"paddingOuter":0.18}},
      "y":{"field":"m","type":"quantitative","scale":{"domain":[-0.8,30],"range":[378,25]}},
      "color":{"field":"g","type":"nominal","scale":{"domain":["HP","NG","PTC"],"range":["#982b2b","#2a3a9e","#000000"]},"legend":null}}},
    {"data":{"name":"cs"},
     "transform":[{"calculate":"datum.i+'|'+datum.g","as":"s"},{"fold":["lo","hi"],"as":["k","cv"]}],
     "mark":{"type":"tick","orient":"horizontal","size":28,"thickness":3.5,"opacity":1},
     "encoding":{"x":{"field":"s","type":"nominal","scale":{"type":"band","domain":["PD1|HP","PD1|NG","PD1|PTC","CD4|HP","CD4|NG","CD4|PTC","CD8|HP","CD8|NG","CD8|PTC"],"paddingInner":0,"paddingOuter":0.18}},
      "y":{"field":"cv","type":"quantitative","scale":{"domain":[-0.8,30],"range":[378,25]}},
      "color":{"field":"g","type":"nominal","scale":{"domain":["HP","NG","PTC"],"range":["#982b2b","#2a3a9e","#000000"]},"legend":null}}}
   ]},
   {"layer":[
    {"data":{"name":"cb"},
     "transform":[{"calculate":"datum.i+'|'+datum.g1","as":"s1"},{"calculate":"datum.i+'|'+datum.g2","as":"s2"}],
     "mark":{"type":"rule","strokeWidth":3.5,"color":"#000"},
     "encoding":{"x":{"field":"s1","type":"nominal","scale":{"type":"band","domain":["PD1|HP","PD1|NG","PD1|PTC","CD4|HP","CD4|NG","CD4|PTC","CD8|HP","CD8|NG","CD8|PTC"],"paddingInner":0,"paddingOuter":0.18},"axis":{"orient":"top","domain":false,"ticks":false,"labelExpr":"split(datum.label,'|')[1]","labelFontSize":32,"labelPadding":16,"labelAngle":0,"title":null}},"x2":{"field":"s2"},
      "y":{"field":"y","type":"quantitative","scale":{"domain":[-0.8,30],"range":[378,25]}}}},
    {"data":{"name":"cb"},
     "transform":[{"calculate":"datum.i+'|'+datum.g1","as":"s1"},{"calculate":"datum.i+'|'+datum.g2","as":"s2"},{"fold":["s1","s2"],"as":["k","sv"]}],
     "mark":{"type":"tick","orient":"vertical","size":34,"thickness":3.5,"opacity":1,"color":"#000"},
     "encoding":{"x":{"field":"sv","type":"nominal","scale":{"type":"band","domain":["PD1|HP","PD1|NG","PD1|PTC","CD4|HP","CD4|NG","CD4|PTC","CD8|HP","CD8|NG","CD8|PTC"],"paddingInner":0,"paddingOuter":0.18}},
      "y":{"field":"y","type":"quantitative","scale":{"domain":[-0.8,30],"range":[378,25]}}}},
    {"data":{"name":"cb"},
     "transform":[{"filter":"datum.g1=='HP' && datum.g2=='PTC'"},{"calculate":"datum.i+'|NG'","as":"sm"}],
     "mark":{"type":"text","fontSize":44,"baseline":"alphabetic","dy":1},
     "encoding":{"x":{"field":"sm","type":"nominal","scale":{"type":"band","domain":["PD1|HP","PD1|NG","PD1|PTC","CD4|HP","CD4|NG","CD4|PTC","CD8|HP","CD8|NG","CD8|PTC"],"paddingInner":0,"paddingOuter":0.18}},
      "y":{"field":"y","type":"quantitative","scale":{"domain":[-0.8,30],"range":[378,25]}},"text":{"field":"t"}}},
    {"data":{"name":"cb"},
     "transform":[{"filter":"!(datum.g1=='HP' && datum.g2=='PTC')"},{"calculate":"datum.i+'|'+datum.g2","as":"sm"}],
     "mark":{"type":"text","fontSize":44,"baseline":"alphabetic","dy":1},
     "encoding":{"x":{"field":"sm","type":"nominal","bandPosition":0,"scale":{"type":"band","domain":["PD1|HP","PD1|NG","PD1|PTC","CD4|HP","CD4|NG","CD4|PTC","CD8|HP","CD8|NG","CD8|PTC"],"paddingInner":0,"paddingOuter":0.18}},
      "y":{"field":"y","type":"quantitative","scale":{"domain":[-0.8,30],"range":[378,25]}},"text":{"field":"t"}}}
   ]}
  ]
 }
 ]
}
]
}
